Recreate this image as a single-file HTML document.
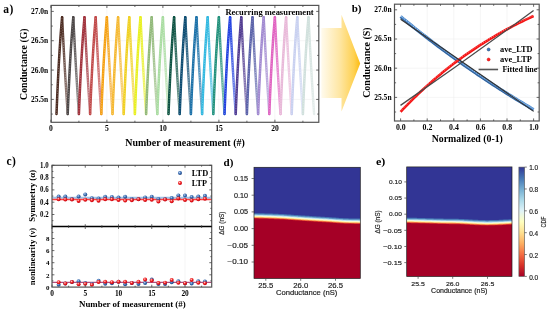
<!DOCTYPE html>
<html><head><meta charset="utf-8"><style>
html,body{margin:0;padding:0;background:#fff;}
svg{display:block;will-change:transform;}
</style></head><body>
<svg width="550" height="312" viewBox="0 0 550 312">
<rect width="550" height="312" fill="#fff"/>
<line x1="51.20" y1="40.73" x2="318.80" y2="40.73" stroke="#efefef" stroke-width="0.6"/>
<line x1="51.20" y1="70.07" x2="318.80" y2="70.07" stroke="#efefef" stroke-width="0.6"/>
<line x1="51.20" y1="99.41" x2="318.80" y2="99.41" stroke="#efefef" stroke-width="0.6"/>
<line x1="106.90" y1="5.40" x2="106.90" y2="122.30" stroke="#efefef" stroke-width="0.6"/>
<line x1="162.90" y1="5.40" x2="162.90" y2="122.30" stroke="#efefef" stroke-width="0.6"/>
<line x1="218.90" y1="5.40" x2="218.90" y2="122.30" stroke="#efefef" stroke-width="0.6"/>
<line x1="274.90" y1="5.40" x2="274.90" y2="122.30" stroke="#efefef" stroke-width="0.6"/>
<defs>
<linearGradient id="fg1" x1="0" y1="17.2" x2="0" y2="114.0" gradientUnits="userSpaceOnUse"><stop offset="0" stop-color="#4b2a20"/><stop offset="1" stop-color="#9c8984"/></linearGradient>
<linearGradient id="fg2" x1="0" y1="17.2" x2="0" y2="114.0" gradientUnits="userSpaceOnUse"><stop offset="0" stop-color="#4a4545"/><stop offset="1" stop-color="#9b9898"/></linearGradient>
<linearGradient id="fg3" x1="0" y1="17.2" x2="0" y2="114.0" gradientUnits="userSpaceOnUse"><stop offset="0" stop-color="#a0303a"/><stop offset="1" stop-color="#ca8d92"/></linearGradient>
<linearGradient id="fg4" x1="0" y1="17.2" x2="0" y2="114.0" gradientUnits="userSpaceOnUse"><stop offset="0" stop-color="#c04848"/><stop offset="1" stop-color="#dc9a9a"/></linearGradient>
<linearGradient id="fg5" x1="0" y1="17.2" x2="0" y2="114.0" gradientUnits="userSpaceOnUse"><stop offset="0" stop-color="#f5a010"/><stop offset="1" stop-color="#f9ca7b"/></linearGradient>
<linearGradient id="fg6" x1="0" y1="17.2" x2="0" y2="114.0" gradientUnits="userSpaceOnUse"><stop offset="0" stop-color="#f5b830"/><stop offset="1" stop-color="#f9d78d"/></linearGradient>
<linearGradient id="fg7" x1="0" y1="17.2" x2="0" y2="114.0" gradientUnits="userSpaceOnUse"><stop offset="0" stop-color="#f0d020"/><stop offset="1" stop-color="#f6e584"/></linearGradient>
<linearGradient id="fg8" x1="0" y1="17.2" x2="0" y2="114.0" gradientUnits="userSpaceOnUse"><stop offset="0" stop-color="#e8f020"/><stop offset="1" stop-color="#f2f684"/></linearGradient>
<linearGradient id="fg9" x1="0" y1="17.2" x2="0" y2="114.0" gradientUnits="userSpaceOnUse"><stop offset="0" stop-color="#90b878"/><stop offset="1" stop-color="#c1d7b4"/></linearGradient>
<linearGradient id="fg10" x1="0" y1="17.2" x2="0" y2="114.0" gradientUnits="userSpaceOnUse"><stop offset="0" stop-color="#a8dca0"/><stop offset="1" stop-color="#cfebca"/></linearGradient>
<linearGradient id="fg11" x1="0" y1="17.2" x2="0" y2="114.0" gradientUnits="userSpaceOnUse"><stop offset="0" stop-color="#0a5040"/><stop offset="1" stop-color="#789e95"/></linearGradient>
<linearGradient id="fg12" x1="0" y1="17.2" x2="0" y2="114.0" gradientUnits="userSpaceOnUse"><stop offset="0" stop-color="#0a4a70"/><stop offset="1" stop-color="#789bb0"/></linearGradient>
<linearGradient id="fg13" x1="0" y1="17.2" x2="0" y2="114.0" gradientUnits="userSpaceOnUse"><stop offset="0" stop-color="#1a70a8"/><stop offset="1" stop-color="#81b0cf"/></linearGradient>
<linearGradient id="fg14" x1="0" y1="17.2" x2="0" y2="114.0" gradientUnits="userSpaceOnUse"><stop offset="0" stop-color="#30b8e0"/><stop offset="1" stop-color="#8dd7ed"/></linearGradient>
<linearGradient id="fg15" x1="0" y1="17.2" x2="0" y2="114.0" gradientUnits="userSpaceOnUse"><stop offset="0" stop-color="#20907a"/><stop offset="1" stop-color="#84c1b5"/></linearGradient>
<linearGradient id="fg16" x1="0" y1="17.2" x2="0" y2="114.0" gradientUnits="userSpaceOnUse"><stop offset="0" stop-color="#2040e0"/><stop offset="1" stop-color="#8495ed"/></linearGradient>
<linearGradient id="fg17" x1="0" y1="17.2" x2="0" y2="114.0" gradientUnits="userSpaceOnUse"><stop offset="0" stop-color="#503a90"/><stop offset="1" stop-color="#9e92c1"/></linearGradient>
<linearGradient id="fg18" x1="0" y1="17.2" x2="0" y2="114.0" gradientUnits="userSpaceOnUse"><stop offset="0" stop-color="#5860a8"/><stop offset="1" stop-color="#a3a7cf"/></linearGradient>
<linearGradient id="fg19" x1="0" y1="17.2" x2="0" y2="114.0" gradientUnits="userSpaceOnUse"><stop offset="0" stop-color="#a088d0"/><stop offset="1" stop-color="#cabde5"/></linearGradient>
<linearGradient id="fg20" x1="0" y1="17.2" x2="0" y2="114.0" gradientUnits="userSpaceOnUse"><stop offset="0" stop-color="#e060c0"/><stop offset="1" stop-color="#eda7dc"/></linearGradient>
<linearGradient id="fg21" x1="0" y1="17.2" x2="0" y2="114.0" gradientUnits="userSpaceOnUse"><stop offset="0" stop-color="#e8b8d8"/><stop offset="1" stop-color="#f2d7e9"/></linearGradient>
<linearGradient id="fg22" x1="0" y1="17.2" x2="0" y2="114.0" gradientUnits="userSpaceOnUse"><stop offset="0" stop-color="#c8d0f0"/><stop offset="1" stop-color="#e0e5f6"/></linearGradient>
<linearGradient id="fg23" x1="0" y1="17.2" x2="0" y2="114.0" gradientUnits="userSpaceOnUse"><stop offset="0" stop-color="#d0e0dc"/><stop offset="1" stop-color="#e5edeb"/></linearGradient>
</defs>
<polyline points="62.10,17.20 62.38,22.89 62.66,28.47 62.94,33.96 63.22,39.36 63.50,44.66 63.78,49.87 64.06,54.99 64.34,60.02 64.62,64.97 64.90,69.82 65.18,74.60 65.46,79.29 65.74,83.90 66.02,88.43 66.30,92.88 66.58,97.25 66.86,101.55 67.14,105.77 67.42,109.92 67.70,114.00" fill="none" stroke="url(#fg1)" stroke-width="2.4" stroke-linejoin="round" stroke-linecap="round"/>
<polyline points="62.10,17.20 62.38,22.89 62.66,28.47 62.94,33.96 63.22,39.36 63.50,44.66 63.78,49.87 64.06,54.99 64.34,60.02 64.62,64.97 64.90,69.82 65.18,74.60 65.46,79.29 65.74,83.90 66.02,88.43 66.30,92.88 66.58,97.25 66.86,101.55 67.14,105.77 67.42,109.92 67.70,114.00" fill="none" stroke="#fff" stroke-opacity="0.45" stroke-width="0.9" stroke-dasharray="0.9 1.6"/>
<polyline points="56.50,114.00 56.78,106.97 57.06,100.22 57.34,93.76 57.62,87.57 57.90,81.64 58.18,75.95 58.46,70.50 58.74,65.27 59.02,60.27 59.30,55.47 59.58,50.87 59.86,46.46 60.14,42.24 60.42,38.19 60.70,34.31 60.98,30.59 61.26,27.03 61.54,23.61 61.82,20.34 62.10,17.20" fill="none" stroke="#4b2a20" stroke-width="2.5" stroke-linejoin="round" stroke-linecap="round"/>
<polyline points="56.50,114.00 56.78,106.97 57.06,100.22 57.34,93.76 57.62,87.57 57.90,81.64 58.18,75.95 58.46,70.50 58.74,65.27 59.02,60.27 59.30,55.47 59.58,50.87 59.86,46.46 60.14,42.24 60.42,38.19 60.70,34.31 60.98,30.59 61.26,27.03 61.54,23.61 61.82,20.34 62.10,17.20" fill="none" stroke="#fff" stroke-opacity="0.35" stroke-width="0.9" stroke-dasharray="0.9 1.6"/>
<polyline points="73.30,17.20 73.58,22.89 73.86,28.47 74.14,33.96 74.42,39.36 74.70,44.66 74.98,49.87 75.26,54.99 75.54,60.02 75.82,64.97 76.10,69.82 76.38,74.60 76.66,79.29 76.94,83.90 77.22,88.43 77.50,92.88 77.78,97.25 78.06,101.55 78.34,105.77 78.62,109.92 78.90,114.00" fill="none" stroke="url(#fg2)" stroke-width="2.4" stroke-linejoin="round" stroke-linecap="round"/>
<polyline points="73.30,17.20 73.58,22.89 73.86,28.47 74.14,33.96 74.42,39.36 74.70,44.66 74.98,49.87 75.26,54.99 75.54,60.02 75.82,64.97 76.10,69.82 76.38,74.60 76.66,79.29 76.94,83.90 77.22,88.43 77.50,92.88 77.78,97.25 78.06,101.55 78.34,105.77 78.62,109.92 78.90,114.00" fill="none" stroke="#fff" stroke-opacity="0.45" stroke-width="0.9" stroke-dasharray="0.9 1.6"/>
<polyline points="67.70,114.00 67.98,106.97 68.26,100.22 68.54,93.76 68.82,87.57 69.10,81.64 69.38,75.95 69.66,70.50 69.94,65.27 70.22,60.27 70.50,55.47 70.78,50.87 71.06,46.46 71.34,42.24 71.62,38.19 71.90,34.31 72.18,30.59 72.46,27.03 72.74,23.61 73.02,20.34 73.30,17.20" fill="none" stroke="#4a4545" stroke-width="2.5" stroke-linejoin="round" stroke-linecap="round"/>
<polyline points="67.70,114.00 67.98,106.97 68.26,100.22 68.54,93.76 68.82,87.57 69.10,81.64 69.38,75.95 69.66,70.50 69.94,65.27 70.22,60.27 70.50,55.47 70.78,50.87 71.06,46.46 71.34,42.24 71.62,38.19 71.90,34.31 72.18,30.59 72.46,27.03 72.74,23.61 73.02,20.34 73.30,17.20" fill="none" stroke="#fff" stroke-opacity="0.35" stroke-width="0.9" stroke-dasharray="0.9 1.6"/>
<polyline points="84.50,17.20 84.78,22.89 85.06,28.47 85.34,33.96 85.62,39.36 85.90,44.66 86.18,49.87 86.46,54.99 86.74,60.02 87.02,64.97 87.30,69.82 87.58,74.60 87.86,79.29 88.14,83.90 88.42,88.43 88.70,92.88 88.98,97.25 89.26,101.55 89.54,105.77 89.82,109.92 90.10,114.00" fill="none" stroke="url(#fg3)" stroke-width="2.4" stroke-linejoin="round" stroke-linecap="round"/>
<polyline points="84.50,17.20 84.78,22.89 85.06,28.47 85.34,33.96 85.62,39.36 85.90,44.66 86.18,49.87 86.46,54.99 86.74,60.02 87.02,64.97 87.30,69.82 87.58,74.60 87.86,79.29 88.14,83.90 88.42,88.43 88.70,92.88 88.98,97.25 89.26,101.55 89.54,105.77 89.82,109.92 90.10,114.00" fill="none" stroke="#fff" stroke-opacity="0.45" stroke-width="0.9" stroke-dasharray="0.9 1.6"/>
<polyline points="78.90,114.00 79.18,106.97 79.46,100.22 79.74,93.76 80.02,87.57 80.30,81.64 80.58,75.95 80.86,70.50 81.14,65.27 81.42,60.27 81.70,55.47 81.98,50.87 82.26,46.46 82.54,42.24 82.82,38.19 83.10,34.31 83.38,30.59 83.66,27.03 83.94,23.61 84.22,20.34 84.50,17.20" fill="none" stroke="#a0303a" stroke-width="2.5" stroke-linejoin="round" stroke-linecap="round"/>
<polyline points="78.90,114.00 79.18,106.97 79.46,100.22 79.74,93.76 80.02,87.57 80.30,81.64 80.58,75.95 80.86,70.50 81.14,65.27 81.42,60.27 81.70,55.47 81.98,50.87 82.26,46.46 82.54,42.24 82.82,38.19 83.10,34.31 83.38,30.59 83.66,27.03 83.94,23.61 84.22,20.34 84.50,17.20" fill="none" stroke="#fff" stroke-opacity="0.35" stroke-width="0.9" stroke-dasharray="0.9 1.6"/>
<polyline points="95.70,17.20 95.98,22.89 96.26,28.47 96.54,33.96 96.82,39.36 97.10,44.66 97.38,49.87 97.66,54.99 97.94,60.02 98.22,64.97 98.50,69.82 98.78,74.60 99.06,79.29 99.34,83.90 99.62,88.43 99.90,92.88 100.18,97.25 100.46,101.55 100.74,105.77 101.02,109.92 101.30,114.00" fill="none" stroke="url(#fg4)" stroke-width="2.4" stroke-linejoin="round" stroke-linecap="round"/>
<polyline points="95.70,17.20 95.98,22.89 96.26,28.47 96.54,33.96 96.82,39.36 97.10,44.66 97.38,49.87 97.66,54.99 97.94,60.02 98.22,64.97 98.50,69.82 98.78,74.60 99.06,79.29 99.34,83.90 99.62,88.43 99.90,92.88 100.18,97.25 100.46,101.55 100.74,105.77 101.02,109.92 101.30,114.00" fill="none" stroke="#fff" stroke-opacity="0.45" stroke-width="0.9" stroke-dasharray="0.9 1.6"/>
<polyline points="90.10,114.00 90.38,106.97 90.66,100.22 90.94,93.76 91.22,87.57 91.50,81.64 91.78,75.95 92.06,70.50 92.34,65.27 92.62,60.27 92.90,55.47 93.18,50.87 93.46,46.46 93.74,42.24 94.02,38.19 94.30,34.31 94.58,30.59 94.86,27.03 95.14,23.61 95.42,20.34 95.70,17.20" fill="none" stroke="#c04848" stroke-width="2.5" stroke-linejoin="round" stroke-linecap="round"/>
<polyline points="90.10,114.00 90.38,106.97 90.66,100.22 90.94,93.76 91.22,87.57 91.50,81.64 91.78,75.95 92.06,70.50 92.34,65.27 92.62,60.27 92.90,55.47 93.18,50.87 93.46,46.46 93.74,42.24 94.02,38.19 94.30,34.31 94.58,30.59 94.86,27.03 95.14,23.61 95.42,20.34 95.70,17.20" fill="none" stroke="#fff" stroke-opacity="0.35" stroke-width="0.9" stroke-dasharray="0.9 1.6"/>
<polyline points="106.90,17.20 107.18,22.89 107.46,28.47 107.74,33.96 108.02,39.36 108.30,44.66 108.58,49.87 108.86,54.99 109.14,60.02 109.42,64.97 109.70,69.82 109.98,74.60 110.26,79.29 110.54,83.90 110.82,88.43 111.10,92.88 111.38,97.25 111.66,101.55 111.94,105.77 112.22,109.92 112.50,114.00" fill="none" stroke="url(#fg5)" stroke-width="2.4" stroke-linejoin="round" stroke-linecap="round"/>
<polyline points="106.90,17.20 107.18,22.89 107.46,28.47 107.74,33.96 108.02,39.36 108.30,44.66 108.58,49.87 108.86,54.99 109.14,60.02 109.42,64.97 109.70,69.82 109.98,74.60 110.26,79.29 110.54,83.90 110.82,88.43 111.10,92.88 111.38,97.25 111.66,101.55 111.94,105.77 112.22,109.92 112.50,114.00" fill="none" stroke="#fff" stroke-opacity="0.45" stroke-width="0.9" stroke-dasharray="0.9 1.6"/>
<polyline points="101.30,114.00 101.58,106.97 101.86,100.22 102.14,93.76 102.42,87.57 102.70,81.64 102.98,75.95 103.26,70.50 103.54,65.27 103.82,60.27 104.10,55.47 104.38,50.87 104.66,46.46 104.94,42.24 105.22,38.19 105.50,34.31 105.78,30.59 106.06,27.03 106.34,23.61 106.62,20.34 106.90,17.20" fill="none" stroke="#f5a010" stroke-width="2.5" stroke-linejoin="round" stroke-linecap="round"/>
<polyline points="101.30,114.00 101.58,106.97 101.86,100.22 102.14,93.76 102.42,87.57 102.70,81.64 102.98,75.95 103.26,70.50 103.54,65.27 103.82,60.27 104.10,55.47 104.38,50.87 104.66,46.46 104.94,42.24 105.22,38.19 105.50,34.31 105.78,30.59 106.06,27.03 106.34,23.61 106.62,20.34 106.90,17.20" fill="none" stroke="#fff" stroke-opacity="0.35" stroke-width="0.9" stroke-dasharray="0.9 1.6"/>
<polyline points="118.10,17.20 118.38,22.89 118.66,28.47 118.94,33.96 119.22,39.36 119.50,44.66 119.78,49.87 120.06,54.99 120.34,60.02 120.62,64.97 120.90,69.82 121.18,74.60 121.46,79.29 121.74,83.90 122.02,88.43 122.30,92.88 122.58,97.25 122.86,101.55 123.14,105.77 123.42,109.92 123.70,114.00" fill="none" stroke="url(#fg6)" stroke-width="2.4" stroke-linejoin="round" stroke-linecap="round"/>
<polyline points="118.10,17.20 118.38,22.89 118.66,28.47 118.94,33.96 119.22,39.36 119.50,44.66 119.78,49.87 120.06,54.99 120.34,60.02 120.62,64.97 120.90,69.82 121.18,74.60 121.46,79.29 121.74,83.90 122.02,88.43 122.30,92.88 122.58,97.25 122.86,101.55 123.14,105.77 123.42,109.92 123.70,114.00" fill="none" stroke="#fff" stroke-opacity="0.45" stroke-width="0.9" stroke-dasharray="0.9 1.6"/>
<polyline points="112.50,114.00 112.78,106.97 113.06,100.22 113.34,93.76 113.62,87.57 113.90,81.64 114.18,75.95 114.46,70.50 114.74,65.27 115.02,60.27 115.30,55.47 115.58,50.87 115.86,46.46 116.14,42.24 116.42,38.19 116.70,34.31 116.98,30.59 117.26,27.03 117.54,23.61 117.82,20.34 118.10,17.20" fill="none" stroke="#f5b830" stroke-width="2.5" stroke-linejoin="round" stroke-linecap="round"/>
<polyline points="112.50,114.00 112.78,106.97 113.06,100.22 113.34,93.76 113.62,87.57 113.90,81.64 114.18,75.95 114.46,70.50 114.74,65.27 115.02,60.27 115.30,55.47 115.58,50.87 115.86,46.46 116.14,42.24 116.42,38.19 116.70,34.31 116.98,30.59 117.26,27.03 117.54,23.61 117.82,20.34 118.10,17.20" fill="none" stroke="#fff" stroke-opacity="0.35" stroke-width="0.9" stroke-dasharray="0.9 1.6"/>
<polyline points="129.30,17.20 129.58,22.89 129.86,28.47 130.14,33.96 130.42,39.36 130.70,44.66 130.98,49.87 131.26,54.99 131.54,60.02 131.82,64.97 132.10,69.82 132.38,74.60 132.66,79.29 132.94,83.90 133.22,88.43 133.50,92.88 133.78,97.25 134.06,101.55 134.34,105.77 134.62,109.92 134.90,114.00" fill="none" stroke="url(#fg7)" stroke-width="2.4" stroke-linejoin="round" stroke-linecap="round"/>
<polyline points="129.30,17.20 129.58,22.89 129.86,28.47 130.14,33.96 130.42,39.36 130.70,44.66 130.98,49.87 131.26,54.99 131.54,60.02 131.82,64.97 132.10,69.82 132.38,74.60 132.66,79.29 132.94,83.90 133.22,88.43 133.50,92.88 133.78,97.25 134.06,101.55 134.34,105.77 134.62,109.92 134.90,114.00" fill="none" stroke="#fff" stroke-opacity="0.45" stroke-width="0.9" stroke-dasharray="0.9 1.6"/>
<polyline points="123.70,114.00 123.98,106.97 124.26,100.22 124.54,93.76 124.82,87.57 125.10,81.64 125.38,75.95 125.66,70.50 125.94,65.27 126.22,60.27 126.50,55.47 126.78,50.87 127.06,46.46 127.34,42.24 127.62,38.19 127.90,34.31 128.18,30.59 128.46,27.03 128.74,23.61 129.02,20.34 129.30,17.20" fill="none" stroke="#f0d020" stroke-width="2.5" stroke-linejoin="round" stroke-linecap="round"/>
<polyline points="123.70,114.00 123.98,106.97 124.26,100.22 124.54,93.76 124.82,87.57 125.10,81.64 125.38,75.95 125.66,70.50 125.94,65.27 126.22,60.27 126.50,55.47 126.78,50.87 127.06,46.46 127.34,42.24 127.62,38.19 127.90,34.31 128.18,30.59 128.46,27.03 128.74,23.61 129.02,20.34 129.30,17.20" fill="none" stroke="#fff" stroke-opacity="0.35" stroke-width="0.9" stroke-dasharray="0.9 1.6"/>
<polyline points="140.50,17.20 140.78,22.89 141.06,28.47 141.34,33.96 141.62,39.36 141.90,44.66 142.18,49.87 142.46,54.99 142.74,60.02 143.02,64.97 143.30,69.82 143.58,74.60 143.86,79.29 144.14,83.90 144.42,88.43 144.70,92.88 144.98,97.25 145.26,101.55 145.54,105.77 145.82,109.92 146.10,114.00" fill="none" stroke="url(#fg8)" stroke-width="2.4" stroke-linejoin="round" stroke-linecap="round"/>
<polyline points="140.50,17.20 140.78,22.89 141.06,28.47 141.34,33.96 141.62,39.36 141.90,44.66 142.18,49.87 142.46,54.99 142.74,60.02 143.02,64.97 143.30,69.82 143.58,74.60 143.86,79.29 144.14,83.90 144.42,88.43 144.70,92.88 144.98,97.25 145.26,101.55 145.54,105.77 145.82,109.92 146.10,114.00" fill="none" stroke="#fff" stroke-opacity="0.45" stroke-width="0.9" stroke-dasharray="0.9 1.6"/>
<polyline points="134.90,114.00 135.18,106.97 135.46,100.22 135.74,93.76 136.02,87.57 136.30,81.64 136.58,75.95 136.86,70.50 137.14,65.27 137.42,60.27 137.70,55.47 137.98,50.87 138.26,46.46 138.54,42.24 138.82,38.19 139.10,34.31 139.38,30.59 139.66,27.03 139.94,23.61 140.22,20.34 140.50,17.20" fill="none" stroke="#e8f020" stroke-width="2.5" stroke-linejoin="round" stroke-linecap="round"/>
<polyline points="134.90,114.00 135.18,106.97 135.46,100.22 135.74,93.76 136.02,87.57 136.30,81.64 136.58,75.95 136.86,70.50 137.14,65.27 137.42,60.27 137.70,55.47 137.98,50.87 138.26,46.46 138.54,42.24 138.82,38.19 139.10,34.31 139.38,30.59 139.66,27.03 139.94,23.61 140.22,20.34 140.50,17.20" fill="none" stroke="#fff" stroke-opacity="0.35" stroke-width="0.9" stroke-dasharray="0.9 1.6"/>
<polyline points="151.70,17.20 151.98,22.89 152.26,28.47 152.54,33.96 152.82,39.36 153.10,44.66 153.38,49.87 153.66,54.99 153.94,60.02 154.22,64.97 154.50,69.82 154.78,74.60 155.06,79.29 155.34,83.90 155.62,88.43 155.90,92.88 156.18,97.25 156.46,101.55 156.74,105.77 157.02,109.92 157.30,114.00" fill="none" stroke="url(#fg9)" stroke-width="2.4" stroke-linejoin="round" stroke-linecap="round"/>
<polyline points="151.70,17.20 151.98,22.89 152.26,28.47 152.54,33.96 152.82,39.36 153.10,44.66 153.38,49.87 153.66,54.99 153.94,60.02 154.22,64.97 154.50,69.82 154.78,74.60 155.06,79.29 155.34,83.90 155.62,88.43 155.90,92.88 156.18,97.25 156.46,101.55 156.74,105.77 157.02,109.92 157.30,114.00" fill="none" stroke="#fff" stroke-opacity="0.45" stroke-width="0.9" stroke-dasharray="0.9 1.6"/>
<polyline points="146.10,114.00 146.38,106.97 146.66,100.22 146.94,93.76 147.22,87.57 147.50,81.64 147.78,75.95 148.06,70.50 148.34,65.27 148.62,60.27 148.90,55.47 149.18,50.87 149.46,46.46 149.74,42.24 150.02,38.19 150.30,34.31 150.58,30.59 150.86,27.03 151.14,23.61 151.42,20.34 151.70,17.20" fill="none" stroke="#90b878" stroke-width="2.5" stroke-linejoin="round" stroke-linecap="round"/>
<polyline points="146.10,114.00 146.38,106.97 146.66,100.22 146.94,93.76 147.22,87.57 147.50,81.64 147.78,75.95 148.06,70.50 148.34,65.27 148.62,60.27 148.90,55.47 149.18,50.87 149.46,46.46 149.74,42.24 150.02,38.19 150.30,34.31 150.58,30.59 150.86,27.03 151.14,23.61 151.42,20.34 151.70,17.20" fill="none" stroke="#fff" stroke-opacity="0.35" stroke-width="0.9" stroke-dasharray="0.9 1.6"/>
<polyline points="162.90,17.20 163.18,22.89 163.46,28.47 163.74,33.96 164.02,39.36 164.30,44.66 164.58,49.87 164.86,54.99 165.14,60.02 165.42,64.97 165.70,69.82 165.98,74.60 166.26,79.29 166.54,83.90 166.82,88.43 167.10,92.88 167.38,97.25 167.66,101.55 167.94,105.77 168.22,109.92 168.50,114.00" fill="none" stroke="url(#fg10)" stroke-width="2.4" stroke-linejoin="round" stroke-linecap="round"/>
<polyline points="162.90,17.20 163.18,22.89 163.46,28.47 163.74,33.96 164.02,39.36 164.30,44.66 164.58,49.87 164.86,54.99 165.14,60.02 165.42,64.97 165.70,69.82 165.98,74.60 166.26,79.29 166.54,83.90 166.82,88.43 167.10,92.88 167.38,97.25 167.66,101.55 167.94,105.77 168.22,109.92 168.50,114.00" fill="none" stroke="#fff" stroke-opacity="0.45" stroke-width="0.9" stroke-dasharray="0.9 1.6"/>
<polyline points="157.30,114.00 157.58,106.97 157.86,100.22 158.14,93.76 158.42,87.57 158.70,81.64 158.98,75.95 159.26,70.50 159.54,65.27 159.82,60.27 160.10,55.47 160.38,50.87 160.66,46.46 160.94,42.24 161.22,38.19 161.50,34.31 161.78,30.59 162.06,27.03 162.34,23.61 162.62,20.34 162.90,17.20" fill="none" stroke="#a8dca0" stroke-width="2.5" stroke-linejoin="round" stroke-linecap="round"/>
<polyline points="157.30,114.00 157.58,106.97 157.86,100.22 158.14,93.76 158.42,87.57 158.70,81.64 158.98,75.95 159.26,70.50 159.54,65.27 159.82,60.27 160.10,55.47 160.38,50.87 160.66,46.46 160.94,42.24 161.22,38.19 161.50,34.31 161.78,30.59 162.06,27.03 162.34,23.61 162.62,20.34 162.90,17.20" fill="none" stroke="#fff" stroke-opacity="0.35" stroke-width="0.9" stroke-dasharray="0.9 1.6"/>
<polyline points="174.10,17.20 174.38,22.89 174.66,28.47 174.94,33.96 175.22,39.36 175.50,44.66 175.78,49.87 176.06,54.99 176.34,60.02 176.62,64.97 176.90,69.82 177.18,74.60 177.46,79.29 177.74,83.90 178.02,88.43 178.30,92.88 178.58,97.25 178.86,101.55 179.14,105.77 179.42,109.92 179.70,114.00" fill="none" stroke="url(#fg11)" stroke-width="2.4" stroke-linejoin="round" stroke-linecap="round"/>
<polyline points="174.10,17.20 174.38,22.89 174.66,28.47 174.94,33.96 175.22,39.36 175.50,44.66 175.78,49.87 176.06,54.99 176.34,60.02 176.62,64.97 176.90,69.82 177.18,74.60 177.46,79.29 177.74,83.90 178.02,88.43 178.30,92.88 178.58,97.25 178.86,101.55 179.14,105.77 179.42,109.92 179.70,114.00" fill="none" stroke="#fff" stroke-opacity="0.45" stroke-width="0.9" stroke-dasharray="0.9 1.6"/>
<polyline points="168.50,114.00 168.78,106.97 169.06,100.22 169.34,93.76 169.62,87.57 169.90,81.64 170.18,75.95 170.46,70.50 170.74,65.27 171.02,60.27 171.30,55.47 171.58,50.87 171.86,46.46 172.14,42.24 172.42,38.19 172.70,34.31 172.98,30.59 173.26,27.03 173.54,23.61 173.82,20.34 174.10,17.20" fill="none" stroke="#0a5040" stroke-width="2.5" stroke-linejoin="round" stroke-linecap="round"/>
<polyline points="168.50,114.00 168.78,106.97 169.06,100.22 169.34,93.76 169.62,87.57 169.90,81.64 170.18,75.95 170.46,70.50 170.74,65.27 171.02,60.27 171.30,55.47 171.58,50.87 171.86,46.46 172.14,42.24 172.42,38.19 172.70,34.31 172.98,30.59 173.26,27.03 173.54,23.61 173.82,20.34 174.10,17.20" fill="none" stroke="#fff" stroke-opacity="0.35" stroke-width="0.9" stroke-dasharray="0.9 1.6"/>
<polyline points="185.30,17.20 185.58,22.89 185.86,28.47 186.14,33.96 186.42,39.36 186.70,44.66 186.98,49.87 187.26,54.99 187.54,60.02 187.82,64.97 188.10,69.82 188.38,74.60 188.66,79.29 188.94,83.90 189.22,88.43 189.50,92.88 189.78,97.25 190.06,101.55 190.34,105.77 190.62,109.92 190.90,114.00" fill="none" stroke="url(#fg12)" stroke-width="2.4" stroke-linejoin="round" stroke-linecap="round"/>
<polyline points="185.30,17.20 185.58,22.89 185.86,28.47 186.14,33.96 186.42,39.36 186.70,44.66 186.98,49.87 187.26,54.99 187.54,60.02 187.82,64.97 188.10,69.82 188.38,74.60 188.66,79.29 188.94,83.90 189.22,88.43 189.50,92.88 189.78,97.25 190.06,101.55 190.34,105.77 190.62,109.92 190.90,114.00" fill="none" stroke="#fff" stroke-opacity="0.45" stroke-width="0.9" stroke-dasharray="0.9 1.6"/>
<polyline points="179.70,114.00 179.98,106.97 180.26,100.22 180.54,93.76 180.82,87.57 181.10,81.64 181.38,75.95 181.66,70.50 181.94,65.27 182.22,60.27 182.50,55.47 182.78,50.87 183.06,46.46 183.34,42.24 183.62,38.19 183.90,34.31 184.18,30.59 184.46,27.03 184.74,23.61 185.02,20.34 185.30,17.20" fill="none" stroke="#0a4a70" stroke-width="2.5" stroke-linejoin="round" stroke-linecap="round"/>
<polyline points="179.70,114.00 179.98,106.97 180.26,100.22 180.54,93.76 180.82,87.57 181.10,81.64 181.38,75.95 181.66,70.50 181.94,65.27 182.22,60.27 182.50,55.47 182.78,50.87 183.06,46.46 183.34,42.24 183.62,38.19 183.90,34.31 184.18,30.59 184.46,27.03 184.74,23.61 185.02,20.34 185.30,17.20" fill="none" stroke="#fff" stroke-opacity="0.35" stroke-width="0.9" stroke-dasharray="0.9 1.6"/>
<polyline points="196.50,17.20 196.78,22.89 197.06,28.47 197.34,33.96 197.62,39.36 197.90,44.66 198.18,49.87 198.46,54.99 198.74,60.02 199.02,64.97 199.30,69.82 199.58,74.60 199.86,79.29 200.14,83.90 200.42,88.43 200.70,92.88 200.98,97.25 201.26,101.55 201.54,105.77 201.82,109.92 202.10,114.00" fill="none" stroke="url(#fg13)" stroke-width="2.4" stroke-linejoin="round" stroke-linecap="round"/>
<polyline points="196.50,17.20 196.78,22.89 197.06,28.47 197.34,33.96 197.62,39.36 197.90,44.66 198.18,49.87 198.46,54.99 198.74,60.02 199.02,64.97 199.30,69.82 199.58,74.60 199.86,79.29 200.14,83.90 200.42,88.43 200.70,92.88 200.98,97.25 201.26,101.55 201.54,105.77 201.82,109.92 202.10,114.00" fill="none" stroke="#fff" stroke-opacity="0.45" stroke-width="0.9" stroke-dasharray="0.9 1.6"/>
<polyline points="190.90,114.00 191.18,106.97 191.46,100.22 191.74,93.76 192.02,87.57 192.30,81.64 192.58,75.95 192.86,70.50 193.14,65.27 193.42,60.27 193.70,55.47 193.98,50.87 194.26,46.46 194.54,42.24 194.82,38.19 195.10,34.31 195.38,30.59 195.66,27.03 195.94,23.61 196.22,20.34 196.50,17.20" fill="none" stroke="#1a70a8" stroke-width="2.5" stroke-linejoin="round" stroke-linecap="round"/>
<polyline points="190.90,114.00 191.18,106.97 191.46,100.22 191.74,93.76 192.02,87.57 192.30,81.64 192.58,75.95 192.86,70.50 193.14,65.27 193.42,60.27 193.70,55.47 193.98,50.87 194.26,46.46 194.54,42.24 194.82,38.19 195.10,34.31 195.38,30.59 195.66,27.03 195.94,23.61 196.22,20.34 196.50,17.20" fill="none" stroke="#fff" stroke-opacity="0.35" stroke-width="0.9" stroke-dasharray="0.9 1.6"/>
<polyline points="207.70,17.20 207.98,22.89 208.26,28.47 208.54,33.96 208.82,39.36 209.10,44.66 209.38,49.87 209.66,54.99 209.94,60.02 210.22,64.97 210.50,69.82 210.78,74.60 211.06,79.29 211.34,83.90 211.62,88.43 211.90,92.88 212.18,97.25 212.46,101.55 212.74,105.77 213.02,109.92 213.30,114.00" fill="none" stroke="url(#fg14)" stroke-width="2.4" stroke-linejoin="round" stroke-linecap="round"/>
<polyline points="207.70,17.20 207.98,22.89 208.26,28.47 208.54,33.96 208.82,39.36 209.10,44.66 209.38,49.87 209.66,54.99 209.94,60.02 210.22,64.97 210.50,69.82 210.78,74.60 211.06,79.29 211.34,83.90 211.62,88.43 211.90,92.88 212.18,97.25 212.46,101.55 212.74,105.77 213.02,109.92 213.30,114.00" fill="none" stroke="#fff" stroke-opacity="0.45" stroke-width="0.9" stroke-dasharray="0.9 1.6"/>
<polyline points="202.10,114.00 202.38,106.97 202.66,100.22 202.94,93.76 203.22,87.57 203.50,81.64 203.78,75.95 204.06,70.50 204.34,65.27 204.62,60.27 204.90,55.47 205.18,50.87 205.46,46.46 205.74,42.24 206.02,38.19 206.30,34.31 206.58,30.59 206.86,27.03 207.14,23.61 207.42,20.34 207.70,17.20" fill="none" stroke="#30b8e0" stroke-width="2.5" stroke-linejoin="round" stroke-linecap="round"/>
<polyline points="202.10,114.00 202.38,106.97 202.66,100.22 202.94,93.76 203.22,87.57 203.50,81.64 203.78,75.95 204.06,70.50 204.34,65.27 204.62,60.27 204.90,55.47 205.18,50.87 205.46,46.46 205.74,42.24 206.02,38.19 206.30,34.31 206.58,30.59 206.86,27.03 207.14,23.61 207.42,20.34 207.70,17.20" fill="none" stroke="#fff" stroke-opacity="0.35" stroke-width="0.9" stroke-dasharray="0.9 1.6"/>
<polyline points="218.90,17.20 219.18,22.89 219.46,28.47 219.74,33.96 220.02,39.36 220.30,44.66 220.58,49.87 220.86,54.99 221.14,60.02 221.42,64.97 221.70,69.82 221.98,74.60 222.26,79.29 222.54,83.90 222.82,88.43 223.10,92.88 223.38,97.25 223.66,101.55 223.94,105.77 224.22,109.92 224.50,114.00" fill="none" stroke="url(#fg15)" stroke-width="2.4" stroke-linejoin="round" stroke-linecap="round"/>
<polyline points="218.90,17.20 219.18,22.89 219.46,28.47 219.74,33.96 220.02,39.36 220.30,44.66 220.58,49.87 220.86,54.99 221.14,60.02 221.42,64.97 221.70,69.82 221.98,74.60 222.26,79.29 222.54,83.90 222.82,88.43 223.10,92.88 223.38,97.25 223.66,101.55 223.94,105.77 224.22,109.92 224.50,114.00" fill="none" stroke="#fff" stroke-opacity="0.45" stroke-width="0.9" stroke-dasharray="0.9 1.6"/>
<polyline points="213.30,114.00 213.58,106.97 213.86,100.22 214.14,93.76 214.42,87.57 214.70,81.64 214.98,75.95 215.26,70.50 215.54,65.27 215.82,60.27 216.10,55.47 216.38,50.87 216.66,46.46 216.94,42.24 217.22,38.19 217.50,34.31 217.78,30.59 218.06,27.03 218.34,23.61 218.62,20.34 218.90,17.20" fill="none" stroke="#20907a" stroke-width="2.5" stroke-linejoin="round" stroke-linecap="round"/>
<polyline points="213.30,114.00 213.58,106.97 213.86,100.22 214.14,93.76 214.42,87.57 214.70,81.64 214.98,75.95 215.26,70.50 215.54,65.27 215.82,60.27 216.10,55.47 216.38,50.87 216.66,46.46 216.94,42.24 217.22,38.19 217.50,34.31 217.78,30.59 218.06,27.03 218.34,23.61 218.62,20.34 218.90,17.20" fill="none" stroke="#fff" stroke-opacity="0.35" stroke-width="0.9" stroke-dasharray="0.9 1.6"/>
<polyline points="230.10,17.20 230.38,22.89 230.66,28.47 230.94,33.96 231.22,39.36 231.50,44.66 231.78,49.87 232.06,54.99 232.34,60.02 232.62,64.97 232.90,69.82 233.18,74.60 233.46,79.29 233.74,83.90 234.02,88.43 234.30,92.88 234.58,97.25 234.86,101.55 235.14,105.77 235.42,109.92 235.70,114.00" fill="none" stroke="url(#fg16)" stroke-width="2.4" stroke-linejoin="round" stroke-linecap="round"/>
<polyline points="230.10,17.20 230.38,22.89 230.66,28.47 230.94,33.96 231.22,39.36 231.50,44.66 231.78,49.87 232.06,54.99 232.34,60.02 232.62,64.97 232.90,69.82 233.18,74.60 233.46,79.29 233.74,83.90 234.02,88.43 234.30,92.88 234.58,97.25 234.86,101.55 235.14,105.77 235.42,109.92 235.70,114.00" fill="none" stroke="#fff" stroke-opacity="0.45" stroke-width="0.9" stroke-dasharray="0.9 1.6"/>
<polyline points="224.50,114.00 224.78,106.97 225.06,100.22 225.34,93.76 225.62,87.57 225.90,81.64 226.18,75.95 226.46,70.50 226.74,65.27 227.02,60.27 227.30,55.47 227.58,50.87 227.86,46.46 228.14,42.24 228.42,38.19 228.70,34.31 228.98,30.59 229.26,27.03 229.54,23.61 229.82,20.34 230.10,17.20" fill="none" stroke="#2040e0" stroke-width="2.5" stroke-linejoin="round" stroke-linecap="round"/>
<polyline points="224.50,114.00 224.78,106.97 225.06,100.22 225.34,93.76 225.62,87.57 225.90,81.64 226.18,75.95 226.46,70.50 226.74,65.27 227.02,60.27 227.30,55.47 227.58,50.87 227.86,46.46 228.14,42.24 228.42,38.19 228.70,34.31 228.98,30.59 229.26,27.03 229.54,23.61 229.82,20.34 230.10,17.20" fill="none" stroke="#fff" stroke-opacity="0.35" stroke-width="0.9" stroke-dasharray="0.9 1.6"/>
<polyline points="241.30,17.20 241.58,22.89 241.86,28.47 242.14,33.96 242.42,39.36 242.70,44.66 242.98,49.87 243.26,54.99 243.54,60.02 243.82,64.97 244.10,69.82 244.38,74.60 244.66,79.29 244.94,83.90 245.22,88.43 245.50,92.88 245.78,97.25 246.06,101.55 246.34,105.77 246.62,109.92 246.90,114.00" fill="none" stroke="url(#fg17)" stroke-width="2.4" stroke-linejoin="round" stroke-linecap="round"/>
<polyline points="241.30,17.20 241.58,22.89 241.86,28.47 242.14,33.96 242.42,39.36 242.70,44.66 242.98,49.87 243.26,54.99 243.54,60.02 243.82,64.97 244.10,69.82 244.38,74.60 244.66,79.29 244.94,83.90 245.22,88.43 245.50,92.88 245.78,97.25 246.06,101.55 246.34,105.77 246.62,109.92 246.90,114.00" fill="none" stroke="#fff" stroke-opacity="0.45" stroke-width="0.9" stroke-dasharray="0.9 1.6"/>
<polyline points="235.70,114.00 235.98,106.97 236.26,100.22 236.54,93.76 236.82,87.57 237.10,81.64 237.38,75.95 237.66,70.50 237.94,65.27 238.22,60.27 238.50,55.47 238.78,50.87 239.06,46.46 239.34,42.24 239.62,38.19 239.90,34.31 240.18,30.59 240.46,27.03 240.74,23.61 241.02,20.34 241.30,17.20" fill="none" stroke="#503a90" stroke-width="2.5" stroke-linejoin="round" stroke-linecap="round"/>
<polyline points="235.70,114.00 235.98,106.97 236.26,100.22 236.54,93.76 236.82,87.57 237.10,81.64 237.38,75.95 237.66,70.50 237.94,65.27 238.22,60.27 238.50,55.47 238.78,50.87 239.06,46.46 239.34,42.24 239.62,38.19 239.90,34.31 240.18,30.59 240.46,27.03 240.74,23.61 241.02,20.34 241.30,17.20" fill="none" stroke="#fff" stroke-opacity="0.35" stroke-width="0.9" stroke-dasharray="0.9 1.6"/>
<polyline points="252.50,17.20 252.78,22.89 253.06,28.47 253.34,33.96 253.62,39.36 253.90,44.66 254.18,49.87 254.46,54.99 254.74,60.02 255.02,64.97 255.30,69.82 255.58,74.60 255.86,79.29 256.14,83.90 256.42,88.43 256.70,92.88 256.98,97.25 257.26,101.55 257.54,105.77 257.82,109.92 258.10,114.00" fill="none" stroke="url(#fg18)" stroke-width="2.4" stroke-linejoin="round" stroke-linecap="round"/>
<polyline points="252.50,17.20 252.78,22.89 253.06,28.47 253.34,33.96 253.62,39.36 253.90,44.66 254.18,49.87 254.46,54.99 254.74,60.02 255.02,64.97 255.30,69.82 255.58,74.60 255.86,79.29 256.14,83.90 256.42,88.43 256.70,92.88 256.98,97.25 257.26,101.55 257.54,105.77 257.82,109.92 258.10,114.00" fill="none" stroke="#fff" stroke-opacity="0.45" stroke-width="0.9" stroke-dasharray="0.9 1.6"/>
<polyline points="246.90,114.00 247.18,106.97 247.46,100.22 247.74,93.76 248.02,87.57 248.30,81.64 248.58,75.95 248.86,70.50 249.14,65.27 249.42,60.27 249.70,55.47 249.98,50.87 250.26,46.46 250.54,42.24 250.82,38.19 251.10,34.31 251.38,30.59 251.66,27.03 251.94,23.61 252.22,20.34 252.50,17.20" fill="none" stroke="#5860a8" stroke-width="2.5" stroke-linejoin="round" stroke-linecap="round"/>
<polyline points="246.90,114.00 247.18,106.97 247.46,100.22 247.74,93.76 248.02,87.57 248.30,81.64 248.58,75.95 248.86,70.50 249.14,65.27 249.42,60.27 249.70,55.47 249.98,50.87 250.26,46.46 250.54,42.24 250.82,38.19 251.10,34.31 251.38,30.59 251.66,27.03 251.94,23.61 252.22,20.34 252.50,17.20" fill="none" stroke="#fff" stroke-opacity="0.35" stroke-width="0.9" stroke-dasharray="0.9 1.6"/>
<polyline points="263.70,17.20 263.98,22.89 264.26,28.47 264.54,33.96 264.82,39.36 265.10,44.66 265.38,49.87 265.66,54.99 265.94,60.02 266.22,64.97 266.50,69.82 266.78,74.60 267.06,79.29 267.34,83.90 267.62,88.43 267.90,92.88 268.18,97.25 268.46,101.55 268.74,105.77 269.02,109.92 269.30,114.00" fill="none" stroke="url(#fg19)" stroke-width="2.4" stroke-linejoin="round" stroke-linecap="round"/>
<polyline points="263.70,17.20 263.98,22.89 264.26,28.47 264.54,33.96 264.82,39.36 265.10,44.66 265.38,49.87 265.66,54.99 265.94,60.02 266.22,64.97 266.50,69.82 266.78,74.60 267.06,79.29 267.34,83.90 267.62,88.43 267.90,92.88 268.18,97.25 268.46,101.55 268.74,105.77 269.02,109.92 269.30,114.00" fill="none" stroke="#fff" stroke-opacity="0.45" stroke-width="0.9" stroke-dasharray="0.9 1.6"/>
<polyline points="258.10,114.00 258.38,106.97 258.66,100.22 258.94,93.76 259.22,87.57 259.50,81.64 259.78,75.95 260.06,70.50 260.34,65.27 260.62,60.27 260.90,55.47 261.18,50.87 261.46,46.46 261.74,42.24 262.02,38.19 262.30,34.31 262.58,30.59 262.86,27.03 263.14,23.61 263.42,20.34 263.70,17.20" fill="none" stroke="#a088d0" stroke-width="2.5" stroke-linejoin="round" stroke-linecap="round"/>
<polyline points="258.10,114.00 258.38,106.97 258.66,100.22 258.94,93.76 259.22,87.57 259.50,81.64 259.78,75.95 260.06,70.50 260.34,65.27 260.62,60.27 260.90,55.47 261.18,50.87 261.46,46.46 261.74,42.24 262.02,38.19 262.30,34.31 262.58,30.59 262.86,27.03 263.14,23.61 263.42,20.34 263.70,17.20" fill="none" stroke="#fff" stroke-opacity="0.35" stroke-width="0.9" stroke-dasharray="0.9 1.6"/>
<polyline points="274.90,17.20 275.18,22.89 275.46,28.47 275.74,33.96 276.02,39.36 276.30,44.66 276.58,49.87 276.86,54.99 277.14,60.02 277.42,64.97 277.70,69.82 277.98,74.60 278.26,79.29 278.54,83.90 278.82,88.43 279.10,92.88 279.38,97.25 279.66,101.55 279.94,105.77 280.22,109.92 280.50,114.00" fill="none" stroke="url(#fg20)" stroke-width="2.4" stroke-linejoin="round" stroke-linecap="round"/>
<polyline points="274.90,17.20 275.18,22.89 275.46,28.47 275.74,33.96 276.02,39.36 276.30,44.66 276.58,49.87 276.86,54.99 277.14,60.02 277.42,64.97 277.70,69.82 277.98,74.60 278.26,79.29 278.54,83.90 278.82,88.43 279.10,92.88 279.38,97.25 279.66,101.55 279.94,105.77 280.22,109.92 280.50,114.00" fill="none" stroke="#fff" stroke-opacity="0.45" stroke-width="0.9" stroke-dasharray="0.9 1.6"/>
<polyline points="269.30,114.00 269.58,106.97 269.86,100.22 270.14,93.76 270.42,87.57 270.70,81.64 270.98,75.95 271.26,70.50 271.54,65.27 271.82,60.27 272.10,55.47 272.38,50.87 272.66,46.46 272.94,42.24 273.22,38.19 273.50,34.31 273.78,30.59 274.06,27.03 274.34,23.61 274.62,20.34 274.90,17.20" fill="none" stroke="#e060c0" stroke-width="2.5" stroke-linejoin="round" stroke-linecap="round"/>
<polyline points="269.30,114.00 269.58,106.97 269.86,100.22 270.14,93.76 270.42,87.57 270.70,81.64 270.98,75.95 271.26,70.50 271.54,65.27 271.82,60.27 272.10,55.47 272.38,50.87 272.66,46.46 272.94,42.24 273.22,38.19 273.50,34.31 273.78,30.59 274.06,27.03 274.34,23.61 274.62,20.34 274.90,17.20" fill="none" stroke="#fff" stroke-opacity="0.35" stroke-width="0.9" stroke-dasharray="0.9 1.6"/>
<polyline points="286.10,17.20 286.38,22.89 286.66,28.47 286.94,33.96 287.22,39.36 287.50,44.66 287.78,49.87 288.06,54.99 288.34,60.02 288.62,64.97 288.90,69.82 289.18,74.60 289.46,79.29 289.74,83.90 290.02,88.43 290.30,92.88 290.58,97.25 290.86,101.55 291.14,105.77 291.42,109.92 291.70,114.00" fill="none" stroke="url(#fg21)" stroke-width="2.4" stroke-linejoin="round" stroke-linecap="round"/>
<polyline points="286.10,17.20 286.38,22.89 286.66,28.47 286.94,33.96 287.22,39.36 287.50,44.66 287.78,49.87 288.06,54.99 288.34,60.02 288.62,64.97 288.90,69.82 289.18,74.60 289.46,79.29 289.74,83.90 290.02,88.43 290.30,92.88 290.58,97.25 290.86,101.55 291.14,105.77 291.42,109.92 291.70,114.00" fill="none" stroke="#fff" stroke-opacity="0.45" stroke-width="0.9" stroke-dasharray="0.9 1.6"/>
<polyline points="280.50,114.00 280.78,106.97 281.06,100.22 281.34,93.76 281.62,87.57 281.90,81.64 282.18,75.95 282.46,70.50 282.74,65.27 283.02,60.27 283.30,55.47 283.58,50.87 283.86,46.46 284.14,42.24 284.42,38.19 284.70,34.31 284.98,30.59 285.26,27.03 285.54,23.61 285.82,20.34 286.10,17.20" fill="none" stroke="#e8b8d8" stroke-width="2.5" stroke-linejoin="round" stroke-linecap="round"/>
<polyline points="280.50,114.00 280.78,106.97 281.06,100.22 281.34,93.76 281.62,87.57 281.90,81.64 282.18,75.95 282.46,70.50 282.74,65.27 283.02,60.27 283.30,55.47 283.58,50.87 283.86,46.46 284.14,42.24 284.42,38.19 284.70,34.31 284.98,30.59 285.26,27.03 285.54,23.61 285.82,20.34 286.10,17.20" fill="none" stroke="#fff" stroke-opacity="0.35" stroke-width="0.9" stroke-dasharray="0.9 1.6"/>
<polyline points="297.30,17.20 297.58,22.89 297.86,28.47 298.14,33.96 298.42,39.36 298.70,44.66 298.98,49.87 299.26,54.99 299.54,60.02 299.82,64.97 300.10,69.82 300.38,74.60 300.66,79.29 300.94,83.90 301.22,88.43 301.50,92.88 301.78,97.25 302.06,101.55 302.34,105.77 302.62,109.92 302.90,114.00" fill="none" stroke="url(#fg22)" stroke-width="2.4" stroke-linejoin="round" stroke-linecap="round"/>
<polyline points="297.30,17.20 297.58,22.89 297.86,28.47 298.14,33.96 298.42,39.36 298.70,44.66 298.98,49.87 299.26,54.99 299.54,60.02 299.82,64.97 300.10,69.82 300.38,74.60 300.66,79.29 300.94,83.90 301.22,88.43 301.50,92.88 301.78,97.25 302.06,101.55 302.34,105.77 302.62,109.92 302.90,114.00" fill="none" stroke="#fff" stroke-opacity="0.45" stroke-width="0.9" stroke-dasharray="0.9 1.6"/>
<polyline points="291.70,114.00 291.98,106.97 292.26,100.22 292.54,93.76 292.82,87.57 293.10,81.64 293.38,75.95 293.66,70.50 293.94,65.27 294.22,60.27 294.50,55.47 294.78,50.87 295.06,46.46 295.34,42.24 295.62,38.19 295.90,34.31 296.18,30.59 296.46,27.03 296.74,23.61 297.02,20.34 297.30,17.20" fill="none" stroke="#c8d0f0" stroke-width="2.5" stroke-linejoin="round" stroke-linecap="round"/>
<polyline points="291.70,114.00 291.98,106.97 292.26,100.22 292.54,93.76 292.82,87.57 293.10,81.64 293.38,75.95 293.66,70.50 293.94,65.27 294.22,60.27 294.50,55.47 294.78,50.87 295.06,46.46 295.34,42.24 295.62,38.19 295.90,34.31 296.18,30.59 296.46,27.03 296.74,23.61 297.02,20.34 297.30,17.20" fill="none" stroke="#fff" stroke-opacity="0.35" stroke-width="0.9" stroke-dasharray="0.9 1.6"/>
<polyline points="308.50,17.20 308.78,22.89 309.06,28.47 309.34,33.96 309.62,39.36 309.90,44.66 310.18,49.87 310.46,54.99 310.74,60.02 311.02,64.97 311.30,69.82 311.58,74.60 311.86,79.29 312.14,83.90 312.42,88.43 312.70,92.88 312.98,97.25 313.26,101.55 313.54,105.77 313.82,109.92 314.10,114.00" fill="none" stroke="url(#fg23)" stroke-width="2.4" stroke-linejoin="round" stroke-linecap="round"/>
<polyline points="308.50,17.20 308.78,22.89 309.06,28.47 309.34,33.96 309.62,39.36 309.90,44.66 310.18,49.87 310.46,54.99 310.74,60.02 311.02,64.97 311.30,69.82 311.58,74.60 311.86,79.29 312.14,83.90 312.42,88.43 312.70,92.88 312.98,97.25 313.26,101.55 313.54,105.77 313.82,109.92 314.10,114.00" fill="none" stroke="#fff" stroke-opacity="0.45" stroke-width="0.9" stroke-dasharray="0.9 1.6"/>
<polyline points="302.90,114.00 303.18,106.97 303.46,100.22 303.74,93.76 304.02,87.57 304.30,81.64 304.58,75.95 304.86,70.50 305.14,65.27 305.42,60.27 305.70,55.47 305.98,50.87 306.26,46.46 306.54,42.24 306.82,38.19 307.10,34.31 307.38,30.59 307.66,27.03 307.94,23.61 308.22,20.34 308.50,17.20" fill="none" stroke="#d0e0dc" stroke-width="2.5" stroke-linejoin="round" stroke-linecap="round"/>
<polyline points="302.90,114.00 303.18,106.97 303.46,100.22 303.74,93.76 304.02,87.57 304.30,81.64 304.58,75.95 304.86,70.50 305.14,65.27 305.42,60.27 305.70,55.47 305.98,50.87 306.26,46.46 306.54,42.24 306.82,38.19 307.10,34.31 307.38,30.59 307.66,27.03 307.94,23.61 308.22,20.34 308.50,17.20" fill="none" stroke="#fff" stroke-opacity="0.35" stroke-width="0.9" stroke-dasharray="0.9 1.6"/>
<rect x="51.20" y="5.40" width="267.60" height="116.90" fill="none" stroke="#555" stroke-width="1.2"/>
<line x1="51.20" y1="11.40" x2="53.80" y2="11.40" stroke="#444" stroke-width="0.8"/>
<line x1="316.20" y1="11.40" x2="318.80" y2="11.40" stroke="#444" stroke-width="0.8"/>
<line x1="51.20" y1="40.73" x2="53.80" y2="40.73" stroke="#444" stroke-width="0.8"/>
<line x1="316.20" y1="40.73" x2="318.80" y2="40.73" stroke="#444" stroke-width="0.8"/>
<line x1="51.20" y1="70.07" x2="53.80" y2="70.07" stroke="#444" stroke-width="0.8"/>
<line x1="316.20" y1="70.07" x2="318.80" y2="70.07" stroke="#444" stroke-width="0.8"/>
<line x1="51.20" y1="99.41" x2="53.80" y2="99.41" stroke="#444" stroke-width="0.8"/>
<line x1="316.20" y1="99.41" x2="318.80" y2="99.41" stroke="#444" stroke-width="0.8"/>
<line x1="51.20" y1="26.07" x2="52.80" y2="26.07" stroke="#444" stroke-width="0.8"/>
<line x1="317.20" y1="26.07" x2="318.80" y2="26.07" stroke="#444" stroke-width="0.8"/>
<line x1="51.20" y1="55.40" x2="52.80" y2="55.40" stroke="#444" stroke-width="0.8"/>
<line x1="317.20" y1="55.40" x2="318.80" y2="55.40" stroke="#444" stroke-width="0.8"/>
<line x1="51.20" y1="84.74" x2="52.80" y2="84.74" stroke="#444" stroke-width="0.8"/>
<line x1="317.20" y1="84.74" x2="318.80" y2="84.74" stroke="#444" stroke-width="0.8"/>
<line x1="51.20" y1="114.07" x2="52.80" y2="114.07" stroke="#444" stroke-width="0.8"/>
<line x1="317.20" y1="114.07" x2="318.80" y2="114.07" stroke="#444" stroke-width="0.8"/>
<line x1="50.90" y1="122.30" x2="50.90" y2="119.70" stroke="#444" stroke-width="0.8"/>
<line x1="50.90" y1="5.40" x2="50.90" y2="8.00" stroke="#444" stroke-width="0.8"/>
<line x1="106.90" y1="122.30" x2="106.90" y2="119.70" stroke="#444" stroke-width="0.8"/>
<line x1="106.90" y1="5.40" x2="106.90" y2="8.00" stroke="#444" stroke-width="0.8"/>
<line x1="162.90" y1="122.30" x2="162.90" y2="119.70" stroke="#444" stroke-width="0.8"/>
<line x1="162.90" y1="5.40" x2="162.90" y2="8.00" stroke="#444" stroke-width="0.8"/>
<line x1="218.90" y1="122.30" x2="218.90" y2="119.70" stroke="#444" stroke-width="0.8"/>
<line x1="218.90" y1="5.40" x2="218.90" y2="8.00" stroke="#444" stroke-width="0.8"/>
<line x1="274.90" y1="122.30" x2="274.90" y2="119.70" stroke="#444" stroke-width="0.8"/>
<line x1="274.90" y1="5.40" x2="274.90" y2="8.00" stroke="#444" stroke-width="0.8"/>
<line x1="78.90" y1="122.30" x2="78.90" y2="120.70" stroke="#444" stroke-width="0.8"/>
<line x1="78.90" y1="5.40" x2="78.90" y2="7.00" stroke="#444" stroke-width="0.8"/>
<line x1="134.90" y1="122.30" x2="134.90" y2="120.70" stroke="#444" stroke-width="0.8"/>
<line x1="134.90" y1="5.40" x2="134.90" y2="7.00" stroke="#444" stroke-width="0.8"/>
<line x1="190.90" y1="122.30" x2="190.90" y2="120.70" stroke="#444" stroke-width="0.8"/>
<line x1="190.90" y1="5.40" x2="190.90" y2="7.00" stroke="#444" stroke-width="0.8"/>
<line x1="246.90" y1="122.30" x2="246.90" y2="120.70" stroke="#444" stroke-width="0.8"/>
<line x1="246.90" y1="5.40" x2="246.90" y2="7.00" stroke="#444" stroke-width="0.8"/>
<line x1="302.90" y1="122.30" x2="302.90" y2="120.70" stroke="#444" stroke-width="0.8"/>
<line x1="302.90" y1="5.40" x2="302.90" y2="7.00" stroke="#444" stroke-width="0.8"/>
<text x="48.30" y="13.90" font-size="7.9" text-anchor="end" style="font-family:'Liberation Serif',serif;font-weight:bold" fill="#000" textLength="17.3" lengthAdjust="spacingAndGlyphs">27.0n</text>
<text x="48.30" y="43.23" font-size="7.9" text-anchor="end" style="font-family:'Liberation Serif',serif;font-weight:bold" fill="#000" textLength="17.3" lengthAdjust="spacingAndGlyphs">26.5n</text>
<text x="48.30" y="72.57" font-size="7.9" text-anchor="end" style="font-family:'Liberation Serif',serif;font-weight:bold" fill="#000" textLength="17.3" lengthAdjust="spacingAndGlyphs">26.0n</text>
<text x="48.30" y="101.91" font-size="7.9" text-anchor="end" style="font-family:'Liberation Serif',serif;font-weight:bold" fill="#000" textLength="17.3" lengthAdjust="spacingAndGlyphs">25.5n</text>
<text x="51.00" y="131.00" font-size="7.6" text-anchor="middle" style="font-family:'Liberation Serif',serif;font-weight:bold" fill="#000">0</text>
<text x="107.00" y="131.00" font-size="7.6" text-anchor="middle" style="font-family:'Liberation Serif',serif;font-weight:bold" fill="#000">5</text>
<text x="163.00" y="131.00" font-size="7.6" text-anchor="middle" style="font-family:'Liberation Serif',serif;font-weight:bold" fill="#000">10</text>
<text x="219.00" y="131.00" font-size="7.6" text-anchor="middle" style="font-family:'Liberation Serif',serif;font-weight:bold" fill="#000">15</text>
<text x="275.00" y="131.00" font-size="7.6" text-anchor="middle" style="font-family:'Liberation Serif',serif;font-weight:bold" fill="#000">20</text>
<text x="185.00" y="145.80" font-size="9.9" text-anchor="middle" style="font-family:'Liberation Serif',serif;font-weight:bold" fill="#000" textLength="119.4" lengthAdjust="spacingAndGlyphs">Number of measurement (#)</text>
<text x="27.20" y="64.20" font-size="9.8" text-anchor="middle" style="font-family:'Liberation Serif',serif;font-weight:bold" fill="#000" transform="rotate(-90 27.20 64.20)" textLength="71.4" lengthAdjust="spacingAndGlyphs">Conductance (G)</text>
<text x="3.30" y="12.50" font-size="11.5" text-anchor="start" style="font-family:'Liberation Serif',serif;font-weight:bold" fill="#000">a</text>
<text x="9.40" y="12.50" font-size="11.5" text-anchor="start" style="font-family:'Liberation Serif',serif;font-weight:bold" fill="#000">)</text>
<text x="225.40" y="14.50" font-size="8.6" text-anchor="start" style="font-family:'Liberation Serif',serif;font-weight:bold" fill="#000" textLength="88.3" lengthAdjust="spacingAndGlyphs">Recurring measurement</text>
<defs><linearGradient id="ag" x1="320" y1="0" x2="360" y2="0" gradientUnits="userSpaceOnUse"><stop offset="0" stop-color="#fffcf2"/><stop offset="0.5" stop-color="#fee6a2"/><stop offset="0.85" stop-color="#fed050"/><stop offset="1" stop-color="#fcbc12"/></linearGradient></defs>
<polygon points="321.3,28 341.5,28 341.5,14.8 360.2,63.4 341.5,111.6 341.5,98 321.3,98" fill="url(#ag)"/>
<line x1="394.50" y1="39.00" x2="539.20" y2="39.00" stroke="#efefef" stroke-width="0.6"/>
<line x1="394.50" y1="68.20" x2="539.20" y2="68.20" stroke="#efefef" stroke-width="0.6"/>
<line x1="394.50" y1="97.40" x2="539.20" y2="97.40" stroke="#efefef" stroke-width="0.6"/>
<line x1="427.20" y1="4.20" x2="427.20" y2="121.00" stroke="#efefef" stroke-width="0.6"/>
<line x1="453.80" y1="4.20" x2="453.80" y2="121.00" stroke="#efefef" stroke-width="0.6"/>
<line x1="480.40" y1="4.20" x2="480.40" y2="121.00" stroke="#efefef" stroke-width="0.6"/>
<line x1="507.00" y1="4.20" x2="507.00" y2="121.00" stroke="#efefef" stroke-width="0.6"/>
<polyline points="400.60,16.60 402.82,18.43 405.03,20.25 407.25,22.06 409.47,23.86 411.68,25.65 413.90,27.43 416.12,29.20 418.33,30.96 420.55,32.71 422.77,34.44 424.98,36.17 427.20,37.89 429.42,39.60 431.63,41.30 433.85,42.98 436.07,44.66 438.28,46.33 440.50,47.99 442.72,49.64 444.93,51.28 447.15,52.91 449.37,54.53 451.58,56.14 453.80,57.74 456.02,59.33 458.23,60.92 460.45,62.49 462.67,64.06 464.88,65.61 467.10,67.16 469.32,68.70 471.53,70.22 473.75,71.74 475.97,73.26 478.18,74.76 480.40,76.25 482.62,77.74 484.83,79.21 487.05,80.68 489.27,82.14 491.48,83.59 493.70,85.03 495.92,86.46 498.13,87.89 500.35,89.31 502.57,90.72 504.78,92.12 507.00,93.51 509.22,94.89 511.43,96.27 513.65,97.64 515.87,99.00 518.08,100.35 520.30,101.70 522.52,103.03 524.73,104.36 526.95,105.68 529.17,107.00 531.38,108.30 533.60,109.60" fill="none" stroke="#4a88cc" stroke-width="3.3" stroke-linejoin="round"/>
<polyline points="400.60,16.60 402.82,18.43 405.03,20.25 407.25,22.06 409.47,23.86 411.68,25.65 413.90,27.43 416.12,29.20 418.33,30.96 420.55,32.71 422.77,34.44 424.98,36.17 427.20,37.89 429.42,39.60 431.63,41.30 433.85,42.98 436.07,44.66 438.28,46.33 440.50,47.99 442.72,49.64 444.93,51.28 447.15,52.91 449.37,54.53 451.58,56.14 453.80,57.74 456.02,59.33 458.23,60.92 460.45,62.49 462.67,64.06 464.88,65.61 467.10,67.16 469.32,68.70 471.53,70.22 473.75,71.74 475.97,73.26 478.18,74.76 480.40,76.25 482.62,77.74 484.83,79.21 487.05,80.68 489.27,82.14 491.48,83.59 493.70,85.03 495.92,86.46 498.13,87.89 500.35,89.31 502.57,90.72 504.78,92.12 507.00,93.51 509.22,94.89 511.43,96.27 513.65,97.64 515.87,99.00 518.08,100.35 520.30,101.70 522.52,103.03 524.73,104.36 526.95,105.68 529.17,107.00 531.38,108.30 533.60,109.60" fill="none" stroke="#2c4a74" stroke-width="0.7" transform="translate(0,1.1)"/>
<polyline points="400.60,16.60 402.82,18.43 405.03,20.25 407.25,22.06 409.47,23.86 411.68,25.65 413.90,27.43 416.12,29.20 418.33,30.96 420.55,32.71 422.77,34.44 424.98,36.17 427.20,37.89 429.42,39.60 431.63,41.30 433.85,42.98 436.07,44.66 438.28,46.33 440.50,47.99 442.72,49.64 444.93,51.28 447.15,52.91 449.37,54.53 451.58,56.14 453.80,57.74 456.02,59.33 458.23,60.92 460.45,62.49 462.67,64.06 464.88,65.61 467.10,67.16 469.32,68.70 471.53,70.22 473.75,71.74 475.97,73.26 478.18,74.76 480.40,76.25 482.62,77.74 484.83,79.21 487.05,80.68 489.27,82.14 491.48,83.59 493.70,85.03 495.92,86.46 498.13,87.89 500.35,89.31 502.57,90.72 504.78,92.12 507.00,93.51 509.22,94.89 511.43,96.27 513.65,97.64 515.87,99.00 518.08,100.35 520.30,101.70 522.52,103.03 524.73,104.36 526.95,105.68 529.17,107.00 531.38,108.30 533.60,109.60" fill="none" stroke="#d0e4fa" stroke-width="1.0" stroke-dasharray="0.9 1.4" transform="translate(0.2,-0.6)"/>
<polyline points="400.60,111.80 402.82,109.45 405.03,107.13 407.25,104.84 409.47,102.58 411.68,100.36 413.90,98.17 416.12,96.00 418.33,93.87 420.55,91.77 422.77,89.70 424.98,87.66 427.20,85.64 429.42,83.66 431.63,81.70 433.85,79.77 436.07,77.87 438.28,75.99 440.50,74.14 442.72,72.32 444.93,70.52 447.15,68.75 449.37,67.00 451.58,65.27 453.80,63.58 456.02,61.90 458.23,60.25 460.45,58.62 462.67,57.02 464.88,55.43 467.10,53.87 469.32,52.33 471.53,50.82 473.75,49.32 475.97,47.85 478.18,46.39 480.40,44.96 482.62,43.55 484.83,42.15 487.05,40.78 489.27,39.42 491.48,38.09 493.70,36.77 495.92,35.47 498.13,34.19 500.35,32.93 502.57,31.69 504.78,30.46 507.00,29.25 509.22,28.06 511.43,26.88 513.65,25.72 515.87,24.58 518.08,23.46 520.30,22.34 522.52,21.25 524.73,20.17 526.95,19.10 529.17,18.06 531.38,17.02 533.60,16.00" fill="none" stroke="#f41414" stroke-width="2.6" stroke-linejoin="round"/>
<polyline points="400.60,111.80 402.82,109.45 405.03,107.13 407.25,104.84 409.47,102.58 411.68,100.36 413.90,98.17 416.12,96.00 418.33,93.87 420.55,91.77 422.77,89.70 424.98,87.66 427.20,85.64 429.42,83.66 431.63,81.70 433.85,79.77 436.07,77.87 438.28,75.99 440.50,74.14 442.72,72.32 444.93,70.52 447.15,68.75 449.37,67.00 451.58,65.27 453.80,63.58 456.02,61.90 458.23,60.25 460.45,58.62 462.67,57.02 464.88,55.43 467.10,53.87 469.32,52.33 471.53,50.82 473.75,49.32 475.97,47.85 478.18,46.39 480.40,44.96 482.62,43.55 484.83,42.15 487.05,40.78 489.27,39.42 491.48,38.09 493.70,36.77 495.92,35.47 498.13,34.19 500.35,32.93 502.57,31.69 504.78,30.46 507.00,29.25 509.22,28.06 511.43,26.88 513.65,25.72 515.87,24.58 518.08,23.46 520.30,22.34 522.52,21.25 524.73,20.17 526.95,19.10 529.17,18.06 531.38,17.02 533.60,16.00" fill="none" stroke="#ff9090" stroke-width="0.9" stroke-dasharray="0.9 1.4" transform="translate(-0.3,-0.4)"/>
<path d="M400.5,105.4 Q467,59.5 533.6,10.5" fill="none" stroke="#4a4a4a" stroke-width="1.3"/>
<line x1="400.60" y1="19.20" x2="533.60" y2="111.40" stroke="#333" stroke-width="1.1"/>
<rect x="394.50" y="4.20" width="144.70" height="116.80" fill="none" stroke="#555" stroke-width="1.2"/>
<line x1="394.50" y1="9.80" x2="397.10" y2="9.80" stroke="#444" stroke-width="0.8"/>
<line x1="536.60" y1="9.80" x2="539.20" y2="9.80" stroke="#444" stroke-width="0.8"/>
<line x1="394.50" y1="39.00" x2="397.10" y2="39.00" stroke="#444" stroke-width="0.8"/>
<line x1="536.60" y1="39.00" x2="539.20" y2="39.00" stroke="#444" stroke-width="0.8"/>
<line x1="394.50" y1="68.20" x2="397.10" y2="68.20" stroke="#444" stroke-width="0.8"/>
<line x1="536.60" y1="68.20" x2="539.20" y2="68.20" stroke="#444" stroke-width="0.8"/>
<line x1="394.50" y1="97.40" x2="397.10" y2="97.40" stroke="#444" stroke-width="0.8"/>
<line x1="536.60" y1="97.40" x2="539.20" y2="97.40" stroke="#444" stroke-width="0.8"/>
<line x1="394.50" y1="24.40" x2="396.10" y2="24.40" stroke="#444" stroke-width="0.8"/>
<line x1="537.60" y1="24.40" x2="539.20" y2="24.40" stroke="#444" stroke-width="0.8"/>
<line x1="394.50" y1="53.60" x2="396.10" y2="53.60" stroke="#444" stroke-width="0.8"/>
<line x1="537.60" y1="53.60" x2="539.20" y2="53.60" stroke="#444" stroke-width="0.8"/>
<line x1="394.50" y1="82.80" x2="396.10" y2="82.80" stroke="#444" stroke-width="0.8"/>
<line x1="537.60" y1="82.80" x2="539.20" y2="82.80" stroke="#444" stroke-width="0.8"/>
<line x1="394.50" y1="112.00" x2="396.10" y2="112.00" stroke="#444" stroke-width="0.8"/>
<line x1="537.60" y1="112.00" x2="539.20" y2="112.00" stroke="#444" stroke-width="0.8"/>
<line x1="400.60" y1="121.00" x2="400.60" y2="118.40" stroke="#444" stroke-width="0.8"/>
<line x1="400.60" y1="4.20" x2="400.60" y2="6.80" stroke="#444" stroke-width="0.8"/>
<line x1="413.90" y1="121.00" x2="413.90" y2="119.40" stroke="#444" stroke-width="0.8"/>
<line x1="413.90" y1="4.20" x2="413.90" y2="5.80" stroke="#444" stroke-width="0.8"/>
<line x1="427.20" y1="121.00" x2="427.20" y2="118.40" stroke="#444" stroke-width="0.8"/>
<line x1="427.20" y1="4.20" x2="427.20" y2="6.80" stroke="#444" stroke-width="0.8"/>
<line x1="440.50" y1="121.00" x2="440.50" y2="119.40" stroke="#444" stroke-width="0.8"/>
<line x1="440.50" y1="4.20" x2="440.50" y2="5.80" stroke="#444" stroke-width="0.8"/>
<line x1="453.80" y1="121.00" x2="453.80" y2="118.40" stroke="#444" stroke-width="0.8"/>
<line x1="453.80" y1="4.20" x2="453.80" y2="6.80" stroke="#444" stroke-width="0.8"/>
<line x1="467.10" y1="121.00" x2="467.10" y2="119.40" stroke="#444" stroke-width="0.8"/>
<line x1="467.10" y1="4.20" x2="467.10" y2="5.80" stroke="#444" stroke-width="0.8"/>
<line x1="480.40" y1="121.00" x2="480.40" y2="118.40" stroke="#444" stroke-width="0.8"/>
<line x1="480.40" y1="4.20" x2="480.40" y2="6.80" stroke="#444" stroke-width="0.8"/>
<line x1="493.70" y1="121.00" x2="493.70" y2="119.40" stroke="#444" stroke-width="0.8"/>
<line x1="493.70" y1="4.20" x2="493.70" y2="5.80" stroke="#444" stroke-width="0.8"/>
<line x1="507.00" y1="121.00" x2="507.00" y2="118.40" stroke="#444" stroke-width="0.8"/>
<line x1="507.00" y1="4.20" x2="507.00" y2="6.80" stroke="#444" stroke-width="0.8"/>
<line x1="520.30" y1="121.00" x2="520.30" y2="119.40" stroke="#444" stroke-width="0.8"/>
<line x1="520.30" y1="4.20" x2="520.30" y2="5.80" stroke="#444" stroke-width="0.8"/>
<line x1="533.60" y1="121.00" x2="533.60" y2="118.40" stroke="#444" stroke-width="0.8"/>
<line x1="533.60" y1="4.20" x2="533.60" y2="6.80" stroke="#444" stroke-width="0.8"/>
<text x="391.60" y="12.20" font-size="7.7" text-anchor="end" style="font-family:'Liberation Serif',serif;font-weight:bold" fill="#000" textLength="17.4" lengthAdjust="spacingAndGlyphs">27.0n</text>
<text x="391.60" y="41.40" font-size="7.7" text-anchor="end" style="font-family:'Liberation Serif',serif;font-weight:bold" fill="#000" textLength="17.4" lengthAdjust="spacingAndGlyphs">26.5n</text>
<text x="391.60" y="70.60" font-size="7.7" text-anchor="end" style="font-family:'Liberation Serif',serif;font-weight:bold" fill="#000" textLength="17.4" lengthAdjust="spacingAndGlyphs">26.0n</text>
<text x="391.60" y="99.80" font-size="7.7" text-anchor="end" style="font-family:'Liberation Serif',serif;font-weight:bold" fill="#000" textLength="17.4" lengthAdjust="spacingAndGlyphs">25.5n</text>
<text x="400.80" y="129.60" font-size="7.6" text-anchor="middle" style="font-family:'Liberation Serif',serif;font-weight:bold" fill="#000" textLength="9.8" lengthAdjust="spacingAndGlyphs">0.0</text>
<text x="427.40" y="129.60" font-size="7.6" text-anchor="middle" style="font-family:'Liberation Serif',serif;font-weight:bold" fill="#000" textLength="9.8" lengthAdjust="spacingAndGlyphs">0.2</text>
<text x="454.00" y="129.60" font-size="7.6" text-anchor="middle" style="font-family:'Liberation Serif',serif;font-weight:bold" fill="#000" textLength="9.8" lengthAdjust="spacingAndGlyphs">0.4</text>
<text x="480.60" y="129.60" font-size="7.6" text-anchor="middle" style="font-family:'Liberation Serif',serif;font-weight:bold" fill="#000" textLength="9.8" lengthAdjust="spacingAndGlyphs">0.6</text>
<text x="507.20" y="129.60" font-size="7.6" text-anchor="middle" style="font-family:'Liberation Serif',serif;font-weight:bold" fill="#000" textLength="9.8" lengthAdjust="spacingAndGlyphs">0.8</text>
<text x="533.80" y="129.60" font-size="7.6" text-anchor="middle" style="font-family:'Liberation Serif',serif;font-weight:bold" fill="#000" textLength="9.8" lengthAdjust="spacingAndGlyphs">1.0</text>
<text x="467.30" y="141.80" font-size="9.8" text-anchor="middle" style="font-family:'Liberation Serif',serif;font-weight:bold" fill="#000" textLength="71.2" lengthAdjust="spacingAndGlyphs">Normalized (0-1)</text>
<text x="370.20" y="62.55" font-size="9.8" text-anchor="middle" style="font-family:'Liberation Serif',serif;font-weight:bold" fill="#000" transform="rotate(-90 370.20 62.55)" textLength="70.5" lengthAdjust="spacingAndGlyphs">Conductance (S)</text>
<text x="351.70" y="12.40" font-size="11.2" text-anchor="start" style="font-family:'Liberation Serif',serif;font-weight:bold" fill="#000" textLength="9.8" lengthAdjust="spacingAndGlyphs">b)</text>
<circle cx="488.6" cy="49.5" r="1.5" fill="#3a78c0" stroke="#1f3f66" stroke-width="0.5"/>
<circle cx="488.6" cy="59.5" r="1.5" fill="#ff2020" stroke="#c00" stroke-width="0.5"/>
<line x1="478.60" y1="69.50" x2="498.10" y2="69.50" stroke="#555" stroke-width="1.6"/>
<text x="500.00" y="52.00" font-size="8" text-anchor="start" style="font-family:'Liberation Serif',serif;font-weight:bold" fill="#000" textLength="32.6" lengthAdjust="spacingAndGlyphs">ave_LTD</text>
<text x="500.00" y="62.20" font-size="8" text-anchor="start" style="font-family:'Liberation Serif',serif;font-weight:bold" fill="#000" textLength="32.0" lengthAdjust="spacingAndGlyphs">ave_LTP</text>
<text x="502.40" y="72.20" font-size="8" text-anchor="start" style="font-family:'Liberation Serif',serif;font-weight:bold" fill="#000" textLength="35.0" lengthAdjust="spacingAndGlyphs">Fitted line</text>
<line x1="118.50" y1="165.30" x2="118.50" y2="287.10" stroke="#efefef" stroke-width="0.6"/>
<line x1="185.00" y1="165.30" x2="185.00" y2="287.10" stroke="#efefef" stroke-width="0.6"/>
<line x1="52.00" y1="197.70" x2="211.70" y2="197.70" stroke="#9fc3e8" stroke-width="1.9"/>
<line x1="52.00" y1="199.50" x2="211.70" y2="199.50" stroke="#ff4040" stroke-width="1.3"/>
<line x1="52.00" y1="282.30" x2="211.70" y2="282.30" stroke="#b05080" stroke-width="1.2"/>
<defs><radialGradient id="gb" cx="0.4" cy="0.35" r="0.7"><stop offset="0" stop-color="#bcd4f0"/><stop offset="0.45" stop-color="#3c6fb4"/><stop offset="1" stop-color="#1e3f78"/></radialGradient><radialGradient id="gr" cx="0.4" cy="0.35" r="0.7"><stop offset="0" stop-color="#ffd0d0"/><stop offset="0.45" stop-color="#f02020"/><stop offset="1" stop-color="#c00010"/></radialGradient></defs>
<circle cx="58.65" cy="196.60" r="2.0" fill="url(#gb)"/>
<circle cx="58.65" cy="199.20" r="2.0" fill="url(#gr)"/>
<circle cx="58.65" cy="284.70" r="2.0" fill="url(#gb)"/>
<circle cx="58.65" cy="282.30" r="2.0" fill="url(#gr)"/>
<circle cx="65.30" cy="196.60" r="2.0" fill="url(#gb)"/>
<circle cx="65.30" cy="199.50" r="2.0" fill="url(#gr)"/>
<circle cx="65.30" cy="283.50" r="2.0" fill="url(#gb)"/>
<circle cx="65.30" cy="283.50" r="2.0" fill="url(#gr)"/>
<circle cx="71.95" cy="199.00" r="2.0" fill="url(#gb)"/>
<circle cx="71.95" cy="199.50" r="2.0" fill="url(#gr)"/>
<circle cx="71.95" cy="282.00" r="2.0" fill="url(#gb)"/>
<circle cx="71.95" cy="282.00" r="2.0" fill="url(#gr)"/>
<circle cx="78.60" cy="196.50" r="2.0" fill="url(#gb)"/>
<circle cx="78.60" cy="200.90" r="2.0" fill="url(#gr)"/>
<circle cx="78.60" cy="281.20" r="2.0" fill="url(#gb)"/>
<circle cx="78.60" cy="284.20" r="2.0" fill="url(#gr)"/>
<circle cx="85.25" cy="194.50" r="2.0" fill="url(#gb)"/>
<circle cx="85.25" cy="199.80" r="2.0" fill="url(#gr)"/>
<circle cx="85.25" cy="283.00" r="2.0" fill="url(#gb)"/>
<circle cx="85.25" cy="283.80" r="2.0" fill="url(#gr)"/>
<circle cx="91.90" cy="198.30" r="2.0" fill="url(#gb)"/>
<circle cx="91.90" cy="200.20" r="2.0" fill="url(#gr)"/>
<circle cx="91.90" cy="284.00" r="2.0" fill="url(#gb)"/>
<circle cx="91.90" cy="284.70" r="2.0" fill="url(#gr)"/>
<circle cx="98.55" cy="198.50" r="2.0" fill="url(#gb)"/>
<circle cx="98.55" cy="200.70" r="2.0" fill="url(#gr)"/>
<circle cx="98.55" cy="280.70" r="2.0" fill="url(#gb)"/>
<circle cx="98.55" cy="282.00" r="2.0" fill="url(#gr)"/>
<circle cx="105.20" cy="196.70" r="2.0" fill="url(#gb)"/>
<circle cx="105.20" cy="199.30" r="2.0" fill="url(#gr)"/>
<circle cx="105.20" cy="283.80" r="2.0" fill="url(#gb)"/>
<circle cx="105.20" cy="281.80" r="2.0" fill="url(#gr)"/>
<circle cx="111.85" cy="196.90" r="2.0" fill="url(#gb)"/>
<circle cx="111.85" cy="199.30" r="2.0" fill="url(#gr)"/>
<circle cx="111.85" cy="283.30" r="2.0" fill="url(#gb)"/>
<circle cx="111.85" cy="282.30" r="2.0" fill="url(#gr)"/>
<circle cx="118.50" cy="197.60" r="2.0" fill="url(#gb)"/>
<circle cx="118.50" cy="200.00" r="2.0" fill="url(#gr)"/>
<circle cx="118.50" cy="281.80" r="2.0" fill="url(#gb)"/>
<circle cx="118.50" cy="281.80" r="2.0" fill="url(#gr)"/>
<circle cx="125.15" cy="196.70" r="2.0" fill="url(#gb)"/>
<circle cx="125.15" cy="200.60" r="2.0" fill="url(#gr)"/>
<circle cx="125.15" cy="284.20" r="2.0" fill="url(#gb)"/>
<circle cx="125.15" cy="281.80" r="2.0" fill="url(#gr)"/>
<circle cx="131.80" cy="198.90" r="2.0" fill="url(#gb)"/>
<circle cx="131.80" cy="200.20" r="2.0" fill="url(#gr)"/>
<circle cx="131.80" cy="282.90" r="2.0" fill="url(#gb)"/>
<circle cx="131.80" cy="282.90" r="2.0" fill="url(#gr)"/>
<circle cx="138.45" cy="199.00" r="2.0" fill="url(#gb)"/>
<circle cx="138.45" cy="199.30" r="2.0" fill="url(#gr)"/>
<circle cx="138.45" cy="284.00" r="2.0" fill="url(#gb)"/>
<circle cx="138.45" cy="281.80" r="2.0" fill="url(#gr)"/>
<circle cx="145.10" cy="197.40" r="2.0" fill="url(#gb)"/>
<circle cx="145.10" cy="200.00" r="2.0" fill="url(#gr)"/>
<circle cx="145.10" cy="283.10" r="2.0" fill="url(#gb)"/>
<circle cx="145.10" cy="279.60" r="2.0" fill="url(#gr)"/>
<circle cx="151.75" cy="196.70" r="2.0" fill="url(#gb)"/>
<circle cx="151.75" cy="199.80" r="2.0" fill="url(#gr)"/>
<circle cx="151.75" cy="279.60" r="2.0" fill="url(#gb)"/>
<circle cx="151.75" cy="280.50" r="2.0" fill="url(#gr)"/>
<circle cx="158.40" cy="198.90" r="2.0" fill="url(#gb)"/>
<circle cx="158.40" cy="201.50" r="2.0" fill="url(#gr)"/>
<circle cx="158.40" cy="284.00" r="2.0" fill="url(#gb)"/>
<circle cx="158.40" cy="283.10" r="2.0" fill="url(#gr)"/>
<circle cx="165.05" cy="199.00" r="2.0" fill="url(#gb)"/>
<circle cx="165.05" cy="199.50" r="2.0" fill="url(#gr)"/>
<circle cx="165.05" cy="284.00" r="2.0" fill="url(#gb)"/>
<circle cx="165.05" cy="282.70" r="2.0" fill="url(#gr)"/>
<circle cx="171.70" cy="198.00" r="2.0" fill="url(#gb)"/>
<circle cx="171.70" cy="201.20" r="2.0" fill="url(#gr)"/>
<circle cx="171.70" cy="282.20" r="2.0" fill="url(#gb)"/>
<circle cx="171.70" cy="280.00" r="2.0" fill="url(#gr)"/>
<circle cx="178.35" cy="195.40" r="2.0" fill="url(#gb)"/>
<circle cx="178.35" cy="198.40" r="2.0" fill="url(#gr)"/>
<circle cx="178.35" cy="281.20" r="2.0" fill="url(#gb)"/>
<circle cx="178.35" cy="282.80" r="2.0" fill="url(#gr)"/>
<circle cx="185.00" cy="195.60" r="2.0" fill="url(#gb)"/>
<circle cx="185.00" cy="200.00" r="2.0" fill="url(#gr)"/>
<circle cx="185.00" cy="283.20" r="2.0" fill="url(#gb)"/>
<circle cx="185.00" cy="283.20" r="2.0" fill="url(#gr)"/>
<circle cx="191.65" cy="197.00" r="2.0" fill="url(#gb)"/>
<circle cx="191.65" cy="200.40" r="2.0" fill="url(#gr)"/>
<circle cx="191.65" cy="283.60" r="2.0" fill="url(#gb)"/>
<circle cx="191.65" cy="280.00" r="2.0" fill="url(#gr)"/>
<circle cx="198.30" cy="196.60" r="2.0" fill="url(#gb)"/>
<circle cx="198.30" cy="199.20" r="2.0" fill="url(#gr)"/>
<circle cx="198.30" cy="281.20" r="2.0" fill="url(#gb)"/>
<circle cx="198.30" cy="282.80" r="2.0" fill="url(#gr)"/>
<circle cx="204.95" cy="195.80" r="2.0" fill="url(#gb)"/>
<circle cx="204.95" cy="198.80" r="2.0" fill="url(#gr)"/>
<circle cx="204.95" cy="281.60" r="2.0" fill="url(#gb)"/>
<circle cx="204.95" cy="283.20" r="2.0" fill="url(#gr)"/>
<rect x="52.00" y="165.30" width="159.70" height="121.80" fill="none" stroke="#555" stroke-width="1.2"/>
<line x1="52.00" y1="226.60" x2="211.70" y2="226.60" stroke="#000" stroke-width="1.5"/>
<line x1="52.00" y1="165.30" x2="54.40" y2="165.30" stroke="#444" stroke-width="0.8"/>
<line x1="209.30" y1="165.30" x2="211.70" y2="165.30" stroke="#444" stroke-width="0.8"/>
<line x1="52.00" y1="177.60" x2="54.40" y2="177.60" stroke="#444" stroke-width="0.8"/>
<line x1="209.30" y1="177.60" x2="211.70" y2="177.60" stroke="#444" stroke-width="0.8"/>
<line x1="52.00" y1="189.90" x2="54.40" y2="189.90" stroke="#444" stroke-width="0.8"/>
<line x1="209.30" y1="189.90" x2="211.70" y2="189.90" stroke="#444" stroke-width="0.8"/>
<line x1="52.00" y1="202.20" x2="54.40" y2="202.20" stroke="#444" stroke-width="0.8"/>
<line x1="209.30" y1="202.20" x2="211.70" y2="202.20" stroke="#444" stroke-width="0.8"/>
<line x1="52.00" y1="214.50" x2="54.40" y2="214.50" stroke="#444" stroke-width="0.8"/>
<line x1="209.30" y1="214.50" x2="211.70" y2="214.50" stroke="#444" stroke-width="0.8"/>
<line x1="52.00" y1="171.45" x2="53.40" y2="171.45" stroke="#444" stroke-width="0.8"/>
<line x1="210.30" y1="171.45" x2="211.70" y2="171.45" stroke="#444" stroke-width="0.8"/>
<line x1="52.00" y1="183.75" x2="53.40" y2="183.75" stroke="#444" stroke-width="0.8"/>
<line x1="210.30" y1="183.75" x2="211.70" y2="183.75" stroke="#444" stroke-width="0.8"/>
<line x1="52.00" y1="196.05" x2="53.40" y2="196.05" stroke="#444" stroke-width="0.8"/>
<line x1="210.30" y1="196.05" x2="211.70" y2="196.05" stroke="#444" stroke-width="0.8"/>
<line x1="52.00" y1="208.35" x2="53.40" y2="208.35" stroke="#444" stroke-width="0.8"/>
<line x1="210.30" y1="208.35" x2="211.70" y2="208.35" stroke="#444" stroke-width="0.8"/>
<line x1="52.00" y1="220.65" x2="53.40" y2="220.65" stroke="#444" stroke-width="0.8"/>
<line x1="210.30" y1="220.65" x2="211.70" y2="220.65" stroke="#444" stroke-width="0.8"/>
<line x1="52.00" y1="238.50" x2="54.40" y2="238.50" stroke="#444" stroke-width="0.8"/>
<line x1="209.30" y1="238.50" x2="211.70" y2="238.50" stroke="#444" stroke-width="0.8"/>
<line x1="52.00" y1="250.60" x2="54.40" y2="250.60" stroke="#444" stroke-width="0.8"/>
<line x1="209.30" y1="250.60" x2="211.70" y2="250.60" stroke="#444" stroke-width="0.8"/>
<line x1="52.00" y1="262.70" x2="54.40" y2="262.70" stroke="#444" stroke-width="0.8"/>
<line x1="209.30" y1="262.70" x2="211.70" y2="262.70" stroke="#444" stroke-width="0.8"/>
<line x1="52.00" y1="274.80" x2="54.40" y2="274.80" stroke="#444" stroke-width="0.8"/>
<line x1="209.30" y1="274.80" x2="211.70" y2="274.80" stroke="#444" stroke-width="0.8"/>
<line x1="52.00" y1="232.45" x2="53.40" y2="232.45" stroke="#444" stroke-width="0.8"/>
<line x1="210.30" y1="232.45" x2="211.70" y2="232.45" stroke="#444" stroke-width="0.8"/>
<line x1="52.00" y1="244.55" x2="53.40" y2="244.55" stroke="#444" stroke-width="0.8"/>
<line x1="210.30" y1="244.55" x2="211.70" y2="244.55" stroke="#444" stroke-width="0.8"/>
<line x1="52.00" y1="256.65" x2="53.40" y2="256.65" stroke="#444" stroke-width="0.8"/>
<line x1="210.30" y1="256.65" x2="211.70" y2="256.65" stroke="#444" stroke-width="0.8"/>
<line x1="52.00" y1="268.75" x2="53.40" y2="268.75" stroke="#444" stroke-width="0.8"/>
<line x1="210.30" y1="268.75" x2="211.70" y2="268.75" stroke="#444" stroke-width="0.8"/>
<line x1="52.00" y1="280.85" x2="53.40" y2="280.85" stroke="#444" stroke-width="0.8"/>
<line x1="210.30" y1="280.85" x2="211.70" y2="280.85" stroke="#444" stroke-width="0.8"/>
<line x1="52.00" y1="287.10" x2="52.00" y2="284.70" stroke="#444" stroke-width="0.8"/>
<line x1="52.00" y1="165.30" x2="52.00" y2="167.70" stroke="#444" stroke-width="0.8"/>
<line x1="52.00" y1="226.60" x2="52.00" y2="224.20" stroke="#444" stroke-width="0.8"/>
<line x1="52.00" y1="226.60" x2="52.00" y2="229.00" stroke="#444" stroke-width="0.8"/>
<line x1="85.25" y1="287.10" x2="85.25" y2="284.70" stroke="#444" stroke-width="0.8"/>
<line x1="85.25" y1="165.30" x2="85.25" y2="167.70" stroke="#444" stroke-width="0.8"/>
<line x1="85.25" y1="226.60" x2="85.25" y2="224.20" stroke="#444" stroke-width="0.8"/>
<line x1="85.25" y1="226.60" x2="85.25" y2="229.00" stroke="#444" stroke-width="0.8"/>
<line x1="118.50" y1="287.10" x2="118.50" y2="284.70" stroke="#444" stroke-width="0.8"/>
<line x1="118.50" y1="165.30" x2="118.50" y2="167.70" stroke="#444" stroke-width="0.8"/>
<line x1="118.50" y1="226.60" x2="118.50" y2="224.20" stroke="#444" stroke-width="0.8"/>
<line x1="118.50" y1="226.60" x2="118.50" y2="229.00" stroke="#444" stroke-width="0.8"/>
<line x1="151.75" y1="287.10" x2="151.75" y2="284.70" stroke="#444" stroke-width="0.8"/>
<line x1="151.75" y1="165.30" x2="151.75" y2="167.70" stroke="#444" stroke-width="0.8"/>
<line x1="151.75" y1="226.60" x2="151.75" y2="224.20" stroke="#444" stroke-width="0.8"/>
<line x1="151.75" y1="226.60" x2="151.75" y2="229.00" stroke="#444" stroke-width="0.8"/>
<line x1="185.00" y1="287.10" x2="185.00" y2="284.70" stroke="#444" stroke-width="0.8"/>
<line x1="185.00" y1="165.30" x2="185.00" y2="167.70" stroke="#444" stroke-width="0.8"/>
<line x1="185.00" y1="226.60" x2="185.00" y2="224.20" stroke="#444" stroke-width="0.8"/>
<line x1="185.00" y1="226.60" x2="185.00" y2="229.00" stroke="#444" stroke-width="0.8"/>
<line x1="68.62" y1="287.10" x2="68.62" y2="285.70" stroke="#444" stroke-width="0.8"/>
<line x1="68.62" y1="165.30" x2="68.62" y2="166.70" stroke="#444" stroke-width="0.8"/>
<line x1="68.62" y1="226.60" x2="68.62" y2="225.20" stroke="#444" stroke-width="0.8"/>
<line x1="68.62" y1="226.60" x2="68.62" y2="228.00" stroke="#444" stroke-width="0.8"/>
<line x1="101.88" y1="287.10" x2="101.88" y2="285.70" stroke="#444" stroke-width="0.8"/>
<line x1="101.88" y1="165.30" x2="101.88" y2="166.70" stroke="#444" stroke-width="0.8"/>
<line x1="101.88" y1="226.60" x2="101.88" y2="225.20" stroke="#444" stroke-width="0.8"/>
<line x1="101.88" y1="226.60" x2="101.88" y2="228.00" stroke="#444" stroke-width="0.8"/>
<line x1="135.12" y1="287.10" x2="135.12" y2="285.70" stroke="#444" stroke-width="0.8"/>
<line x1="135.12" y1="165.30" x2="135.12" y2="166.70" stroke="#444" stroke-width="0.8"/>
<line x1="135.12" y1="226.60" x2="135.12" y2="225.20" stroke="#444" stroke-width="0.8"/>
<line x1="135.12" y1="226.60" x2="135.12" y2="228.00" stroke="#444" stroke-width="0.8"/>
<line x1="168.38" y1="287.10" x2="168.38" y2="285.70" stroke="#444" stroke-width="0.8"/>
<line x1="168.38" y1="165.30" x2="168.38" y2="166.70" stroke="#444" stroke-width="0.8"/>
<line x1="168.38" y1="226.60" x2="168.38" y2="225.20" stroke="#444" stroke-width="0.8"/>
<line x1="168.38" y1="226.60" x2="168.38" y2="228.00" stroke="#444" stroke-width="0.8"/>
<line x1="201.62" y1="287.10" x2="201.62" y2="285.70" stroke="#444" stroke-width="0.8"/>
<line x1="201.62" y1="165.30" x2="201.62" y2="166.70" stroke="#444" stroke-width="0.8"/>
<line x1="201.62" y1="226.60" x2="201.62" y2="225.20" stroke="#444" stroke-width="0.8"/>
<line x1="201.62" y1="226.60" x2="201.62" y2="228.00" stroke="#444" stroke-width="0.8"/>
<text x="48.60" y="167.60" font-size="7.2" text-anchor="end" style="font-family:'Liberation Serif',serif;font-weight:bold" fill="#000" textLength="8.6" lengthAdjust="spacingAndGlyphs">1.0</text>
<text x="48.60" y="179.90" font-size="7.2" text-anchor="end" style="font-family:'Liberation Serif',serif;font-weight:bold" fill="#000" textLength="8.6" lengthAdjust="spacingAndGlyphs">0.8</text>
<text x="48.60" y="192.20" font-size="7.2" text-anchor="end" style="font-family:'Liberation Serif',serif;font-weight:bold" fill="#000" textLength="8.6" lengthAdjust="spacingAndGlyphs">0.6</text>
<text x="48.60" y="204.50" font-size="7.2" text-anchor="end" style="font-family:'Liberation Serif',serif;font-weight:bold" fill="#000" textLength="8.6" lengthAdjust="spacingAndGlyphs">0.4</text>
<text x="48.60" y="216.80" font-size="7.2" text-anchor="end" style="font-family:'Liberation Serif',serif;font-weight:bold" fill="#000" textLength="8.6" lengthAdjust="spacingAndGlyphs">0.2</text>
<text x="49.40" y="241.20" font-size="7.0" text-anchor="end" style="font-family:'Liberation Serif',serif;font-weight:bold" fill="#000">8</text>
<text x="49.40" y="253.30" font-size="7.0" text-anchor="end" style="font-family:'Liberation Serif',serif;font-weight:bold" fill="#000">6</text>
<text x="49.40" y="265.40" font-size="7.0" text-anchor="end" style="font-family:'Liberation Serif',serif;font-weight:bold" fill="#000">4</text>
<text x="49.40" y="277.50" font-size="7.0" text-anchor="end" style="font-family:'Liberation Serif',serif;font-weight:bold" fill="#000">2</text>
<text x="49.40" y="289.60" font-size="7.0" text-anchor="end" style="font-family:'Liberation Serif',serif;font-weight:bold" fill="#000">0</text>
<text x="52.10" y="295.60" font-size="7.4" text-anchor="middle" style="font-family:'Liberation Serif',serif;font-weight:bold" fill="#000">0</text>
<text x="85.35" y="295.60" font-size="7.4" text-anchor="middle" style="font-family:'Liberation Serif',serif;font-weight:bold" fill="#000">5</text>
<text x="118.60" y="295.60" font-size="7.4" text-anchor="middle" style="font-family:'Liberation Serif',serif;font-weight:bold" fill="#000">10</text>
<text x="151.85" y="295.60" font-size="7.4" text-anchor="middle" style="font-family:'Liberation Serif',serif;font-weight:bold" fill="#000">15</text>
<text x="185.10" y="295.60" font-size="7.4" text-anchor="middle" style="font-family:'Liberation Serif',serif;font-weight:bold" fill="#000">20</text>
<text x="132.35" y="307.00" font-size="8.85" text-anchor="middle" style="font-family:'Liberation Serif',serif;font-weight:bold" fill="#000" textLength="106.7" lengthAdjust="spacingAndGlyphs">Number of measurement (#)</text>
<text x="35.20" y="195.85" font-size="8.8" text-anchor="middle" style="font-family:'Liberation Serif',serif;font-weight:bold" fill="#000" transform="rotate(-90 35.20 195.85)" textLength="51.9" lengthAdjust="spacingAndGlyphs">Symmetry (α)</text>
<text x="35.40" y="256.50" font-size="8.7" text-anchor="middle" style="font-family:'Liberation Serif',serif;font-weight:bold" fill="#000" transform="rotate(-90 35.40 256.50)" textLength="57.4" lengthAdjust="spacingAndGlyphs">nonlinearity (ν)</text>
<text x="6.40" y="164.70" font-size="11.5" text-anchor="start" style="font-family:'Liberation Serif',serif;font-weight:bold" fill="#000">c</text>
<text x="11.90" y="164.70" font-size="11.5" text-anchor="start" style="font-family:'Liberation Serif',serif;font-weight:bold" fill="#000">)</text>
<circle cx="180.0" cy="173.1" r="2.0" fill="url(#gb)"/>
<circle cx="180.0" cy="183.1" r="2.0" fill="url(#gr)"/>
<text x="191.80" y="175.80" font-size="7.9" text-anchor="start" style="font-family:'Liberation Serif',serif;font-weight:bold" fill="#000" textLength="16.4" lengthAdjust="spacingAndGlyphs">LTD</text>
<text x="191.80" y="185.60" font-size="7.9" text-anchor="start" style="font-family:'Liberation Serif',serif;font-weight:bold" fill="#000" textLength="15.2" lengthAdjust="spacingAndGlyphs">LTP</text>
<defs><clipPath id="hc1"><rect x="254.0" y="167.3" width="106.30" height="111.10"/></clipPath><filter id="hf1" x="-5%" y="-5%" width="110%" height="110%"><feGaussianBlur stdDeviation="0.45"/></filter></defs>
<g clip-path="url(#hc1)"><g filter="url(#hf1)">
<rect x="251.0" y="164.3" width="112.30" height="117.10" fill="#313695"/>
<polygon points="251.00,281.4 251.00,213.10 252.40,213.10 253.81,213.10 255.21,213.13 256.62,213.17 258.02,213.20 259.42,213.24 260.83,213.27 262.23,213.31 263.63,213.34 265.04,213.38 266.44,213.41 267.85,213.45 269.25,213.48 270.65,213.53 272.06,213.60 273.46,213.66 274.86,213.73 276.27,213.79 277.67,213.86 279.07,213.92 280.48,213.99 281.88,214.05 283.29,214.12 284.69,214.19 286.09,214.28 287.50,214.38 288.90,214.49 290.31,214.59 291.71,214.69 293.11,214.79 294.52,214.90 295.92,215.00 297.32,215.10 298.73,215.21 300.13,215.31 301.54,215.40 302.94,215.50 304.34,215.59 305.75,215.68 307.15,215.78 308.55,215.87 309.96,215.96 311.36,216.06 312.76,216.15 314.17,216.24 315.57,216.33 316.98,216.42 318.38,216.50 319.78,216.59 321.19,216.67 322.59,216.76 324.00,216.84 325.40,216.92 326.80,217.01 328.21,217.09 329.61,217.18 331.01,217.27 332.42,217.38 333.82,217.48 335.23,217.58 336.63,217.69 338.03,217.79 339.44,217.89 340.84,217.99 342.24,218.10 343.65,218.20 345.05,218.30 346.46,218.33 347.86,218.36 349.26,218.38 350.67,218.41 352.07,218.44 353.47,218.47 354.88,218.49 356.28,218.52 357.69,218.55 359.09,218.58 360.49,218.60 361.90,218.60 363.30,218.60 363.30,281.4" fill="#4575b4"/>
<polygon points="251.00,281.4 251.00,214.10 252.40,214.10 253.81,214.10 255.21,214.13 256.62,214.17 258.02,214.20 259.42,214.24 260.83,214.27 262.23,214.31 263.63,214.34 265.04,214.38 266.44,214.41 267.85,214.45 269.25,214.48 270.65,214.53 272.06,214.60 273.46,214.66 274.86,214.73 276.27,214.79 277.67,214.86 279.07,214.92 280.48,214.99 281.88,215.05 283.29,215.12 284.69,215.19 286.09,215.28 287.50,215.38 288.90,215.49 290.31,215.59 291.71,215.69 293.11,215.79 294.52,215.90 295.92,216.00 297.32,216.10 298.73,216.21 300.13,216.31 301.54,216.40 302.94,216.50 304.34,216.59 305.75,216.68 307.15,216.78 308.55,216.87 309.96,216.96 311.36,217.06 312.76,217.15 314.17,217.24 315.57,217.33 316.98,217.42 318.38,217.50 319.78,217.59 321.19,217.67 322.59,217.76 324.00,217.84 325.40,217.92 326.80,218.01 328.21,218.09 329.61,218.18 331.01,218.27 332.42,218.38 333.82,218.48 335.23,218.58 336.63,218.69 338.03,218.79 339.44,218.89 340.84,218.99 342.24,219.10 343.65,219.20 345.05,219.30 346.46,219.33 347.86,219.36 349.26,219.38 350.67,219.41 352.07,219.44 353.47,219.47 354.88,219.49 356.28,219.52 357.69,219.55 359.09,219.58 360.49,219.60 361.90,219.60 363.30,219.60 363.30,281.4" fill="#74add1"/>
<polygon points="251.00,281.4 251.00,214.80 252.40,214.80 253.81,214.80 255.21,214.83 256.62,214.87 258.02,214.90 259.42,214.94 260.83,214.97 262.23,215.01 263.63,215.04 265.04,215.08 266.44,215.11 267.85,215.15 269.25,215.18 270.65,215.23 272.06,215.30 273.46,215.36 274.86,215.43 276.27,215.49 277.67,215.56 279.07,215.62 280.48,215.69 281.88,215.75 283.29,215.82 284.69,215.89 286.09,215.98 287.50,216.08 288.90,216.19 290.31,216.29 291.71,216.39 293.11,216.49 294.52,216.60 295.92,216.70 297.32,216.80 298.73,216.91 300.13,217.01 301.54,217.10 302.94,217.20 304.34,217.29 305.75,217.38 307.15,217.48 308.55,217.57 309.96,217.66 311.36,217.76 312.76,217.85 314.17,217.94 315.57,218.03 316.98,218.12 318.38,218.20 319.78,218.29 321.19,218.37 322.59,218.46 324.00,218.54 325.40,218.62 326.80,218.71 328.21,218.79 329.61,218.88 331.01,218.97 332.42,219.08 333.82,219.18 335.23,219.28 336.63,219.39 338.03,219.49 339.44,219.59 340.84,219.69 342.24,219.80 343.65,219.90 345.05,220.00 346.46,220.03 347.86,220.06 349.26,220.08 350.67,220.11 352.07,220.14 353.47,220.17 354.88,220.19 356.28,220.22 357.69,220.25 359.09,220.28 360.49,220.30 361.90,220.30 363.30,220.30 363.30,281.4" fill="#abd9e9"/>
<polygon points="251.00,281.4 251.00,215.40 252.40,215.40 253.81,215.40 255.21,215.43 256.62,215.47 258.02,215.50 259.42,215.54 260.83,215.57 262.23,215.61 263.63,215.64 265.04,215.68 266.44,215.71 267.85,215.75 269.25,215.78 270.65,215.83 272.06,215.90 273.46,215.96 274.86,216.03 276.27,216.09 277.67,216.16 279.07,216.22 280.48,216.29 281.88,216.35 283.29,216.42 284.69,216.49 286.09,216.58 287.50,216.68 288.90,216.79 290.31,216.89 291.71,216.99 293.11,217.09 294.52,217.20 295.92,217.30 297.32,217.40 298.73,217.51 300.13,217.61 301.54,217.70 302.94,217.80 304.34,217.89 305.75,217.98 307.15,218.08 308.55,218.17 309.96,218.26 311.36,218.36 312.76,218.45 314.17,218.54 315.57,218.63 316.98,218.72 318.38,218.80 319.78,218.89 321.19,218.97 322.59,219.06 324.00,219.14 325.40,219.22 326.80,219.31 328.21,219.39 329.61,219.48 331.01,219.57 332.42,219.68 333.82,219.78 335.23,219.88 336.63,219.99 338.03,220.09 339.44,220.19 340.84,220.29 342.24,220.40 343.65,220.50 345.05,220.60 346.46,220.63 347.86,220.66 349.26,220.68 350.67,220.71 352.07,220.74 353.47,220.77 354.88,220.79 356.28,220.82 357.69,220.85 359.09,220.88 360.49,220.90 361.90,220.90 363.30,220.90 363.30,281.4" fill="#e0f3f8"/>
<polygon points="251.00,281.4 251.00,215.95 252.40,215.95 253.81,215.95 255.21,215.98 256.62,216.02 258.02,216.05 259.42,216.09 260.83,216.12 262.23,216.16 263.63,216.19 265.04,216.23 266.44,216.26 267.85,216.30 269.25,216.33 270.65,216.38 272.06,216.45 273.46,216.51 274.86,216.58 276.27,216.64 277.67,216.71 279.07,216.77 280.48,216.84 281.88,216.90 283.29,216.97 284.69,217.04 286.09,217.13 287.50,217.23 288.90,217.34 290.31,217.44 291.71,217.54 293.11,217.64 294.52,217.75 295.92,217.85 297.32,217.95 298.73,218.06 300.13,218.16 301.54,218.25 302.94,218.35 304.34,218.44 305.75,218.53 307.15,218.63 308.55,218.72 309.96,218.81 311.36,218.91 312.76,219.00 314.17,219.09 315.57,219.18 316.98,219.27 318.38,219.35 319.78,219.44 321.19,219.52 322.59,219.61 324.00,219.69 325.40,219.77 326.80,219.86 328.21,219.94 329.61,220.03 331.01,220.12 332.42,220.23 333.82,220.33 335.23,220.43 336.63,220.54 338.03,220.64 339.44,220.74 340.84,220.84 342.24,220.95 343.65,221.05 345.05,221.15 346.46,221.18 347.86,221.21 349.26,221.23 350.67,221.26 352.07,221.29 353.47,221.32 354.88,221.34 356.28,221.37 357.69,221.40 359.09,221.43 360.49,221.45 361.90,221.45 363.30,221.45 363.30,281.4" fill="#ffffbf"/>
<polygon points="251.00,281.4 251.00,216.70 252.40,216.70 253.81,216.70 255.21,216.73 256.62,216.77 258.02,216.80 259.42,216.84 260.83,216.87 262.23,216.91 263.63,216.94 265.04,216.98 266.44,217.01 267.85,217.05 269.25,217.08 270.65,217.13 272.06,217.20 273.46,217.26 274.86,217.33 276.27,217.39 277.67,217.46 279.07,217.52 280.48,217.59 281.88,217.65 283.29,217.72 284.69,217.79 286.09,217.88 287.50,217.98 288.90,218.09 290.31,218.19 291.71,218.29 293.11,218.39 294.52,218.50 295.92,218.60 297.32,218.70 298.73,218.81 300.13,218.91 301.54,219.00 302.94,219.10 304.34,219.19 305.75,219.28 307.15,219.38 308.55,219.47 309.96,219.56 311.36,219.66 312.76,219.75 314.17,219.84 315.57,219.93 316.98,220.02 318.38,220.10 319.78,220.19 321.19,220.27 322.59,220.36 324.00,220.44 325.40,220.52 326.80,220.61 328.21,220.69 329.61,220.78 331.01,220.87 332.42,220.98 333.82,221.08 335.23,221.18 336.63,221.29 338.03,221.39 339.44,221.49 340.84,221.59 342.24,221.70 343.65,221.80 345.05,221.90 346.46,221.93 347.86,221.96 349.26,221.98 350.67,222.01 352.07,222.04 353.47,222.07 354.88,222.09 356.28,222.12 357.69,222.15 359.09,222.18 360.49,222.20 361.90,222.20 363.30,222.20 363.30,281.4" fill="#fee090"/>
<polygon points="251.00,281.4 251.00,217.15 252.40,217.15 253.81,217.15 255.21,217.18 256.62,217.22 258.02,217.25 259.42,217.29 260.83,217.32 262.23,217.36 263.63,217.39 265.04,217.43 266.44,217.46 267.85,217.50 269.25,217.53 270.65,217.58 272.06,217.65 273.46,217.71 274.86,217.78 276.27,217.84 277.67,217.91 279.07,217.97 280.48,218.04 281.88,218.10 283.29,218.17 284.69,218.24 286.09,218.33 287.50,218.43 288.90,218.54 290.31,218.64 291.71,218.74 293.11,218.84 294.52,218.95 295.92,219.05 297.32,219.15 298.73,219.26 300.13,219.36 301.54,219.45 302.94,219.55 304.34,219.64 305.75,219.73 307.15,219.83 308.55,219.92 309.96,220.01 311.36,220.11 312.76,220.20 314.17,220.29 315.57,220.38 316.98,220.47 318.38,220.55 319.78,220.64 321.19,220.72 322.59,220.81 324.00,220.89 325.40,220.97 326.80,221.06 328.21,221.14 329.61,221.23 331.01,221.32 332.42,221.43 333.82,221.53 335.23,221.63 336.63,221.74 338.03,221.84 339.44,221.94 340.84,222.04 342.24,222.15 343.65,222.25 345.05,222.35 346.46,222.38 347.86,222.41 349.26,222.43 350.67,222.46 352.07,222.49 353.47,222.52 354.88,222.54 356.28,222.57 357.69,222.60 359.09,222.63 360.49,222.65 361.90,222.65 363.30,222.65 363.30,281.4" fill="#fdae61"/>
<polygon points="251.00,281.4 251.00,217.60 252.40,217.60 253.81,217.60 255.21,217.63 256.62,217.67 258.02,217.70 259.42,217.74 260.83,217.77 262.23,217.81 263.63,217.84 265.04,217.88 266.44,217.91 267.85,217.95 269.25,217.98 270.65,218.03 272.06,218.10 273.46,218.16 274.86,218.23 276.27,218.29 277.67,218.36 279.07,218.42 280.48,218.49 281.88,218.55 283.29,218.62 284.69,218.69 286.09,218.78 287.50,218.88 288.90,218.99 290.31,219.09 291.71,219.19 293.11,219.29 294.52,219.40 295.92,219.50 297.32,219.60 298.73,219.71 300.13,219.81 301.54,219.90 302.94,220.00 304.34,220.09 305.75,220.18 307.15,220.28 308.55,220.37 309.96,220.46 311.36,220.56 312.76,220.65 314.17,220.74 315.57,220.83 316.98,220.92 318.38,221.00 319.78,221.09 321.19,221.17 322.59,221.26 324.00,221.34 325.40,221.42 326.80,221.51 328.21,221.59 329.61,221.68 331.01,221.77 332.42,221.88 333.82,221.98 335.23,222.08 336.63,222.19 338.03,222.29 339.44,222.39 340.84,222.49 342.24,222.60 343.65,222.70 345.05,222.80 346.46,222.83 347.86,222.86 349.26,222.88 350.67,222.91 352.07,222.94 353.47,222.97 354.88,222.99 356.28,223.02 357.69,223.05 359.09,223.08 360.49,223.10 361.90,223.10 363.30,223.10 363.30,281.4" fill="#f46d43"/>
<polygon points="251.00,281.4 251.00,218.05 252.40,218.05 253.81,218.05 255.21,218.08 256.62,218.12 258.02,218.15 259.42,218.19 260.83,218.22 262.23,218.26 263.63,218.29 265.04,218.33 266.44,218.36 267.85,218.40 269.25,218.43 270.65,218.48 272.06,218.55 273.46,218.61 274.86,218.68 276.27,218.74 277.67,218.81 279.07,218.87 280.48,218.94 281.88,219.00 283.29,219.07 284.69,219.14 286.09,219.23 287.50,219.33 288.90,219.44 290.31,219.54 291.71,219.64 293.11,219.74 294.52,219.85 295.92,219.95 297.32,220.05 298.73,220.16 300.13,220.26 301.54,220.35 302.94,220.45 304.34,220.54 305.75,220.63 307.15,220.73 308.55,220.82 309.96,220.91 311.36,221.01 312.76,221.10 314.17,221.19 315.57,221.28 316.98,221.37 318.38,221.45 319.78,221.54 321.19,221.62 322.59,221.71 324.00,221.79 325.40,221.87 326.80,221.96 328.21,222.04 329.61,222.13 331.01,222.22 332.42,222.33 333.82,222.43 335.23,222.53 336.63,222.64 338.03,222.74 339.44,222.84 340.84,222.94 342.24,223.05 343.65,223.15 345.05,223.25 346.46,223.28 347.86,223.31 349.26,223.33 350.67,223.36 352.07,223.39 353.47,223.42 354.88,223.44 356.28,223.47 357.69,223.50 359.09,223.53 360.49,223.55 361.90,223.55 363.30,223.55 363.30,281.4" fill="#d73027"/>
<polygon points="251.00,281.4 251.00,218.50 252.40,218.50 253.81,218.50 255.21,218.53 256.62,218.57 258.02,218.60 259.42,218.64 260.83,218.67 262.23,218.71 263.63,218.74 265.04,218.78 266.44,218.81 267.85,218.85 269.25,218.88 270.65,218.93 272.06,219.00 273.46,219.06 274.86,219.13 276.27,219.19 277.67,219.26 279.07,219.32 280.48,219.39 281.88,219.45 283.29,219.52 284.69,219.59 286.09,219.68 287.50,219.78 288.90,219.89 290.31,219.99 291.71,220.09 293.11,220.19 294.52,220.30 295.92,220.40 297.32,220.50 298.73,220.61 300.13,220.71 301.54,220.80 302.94,220.90 304.34,220.99 305.75,221.08 307.15,221.18 308.55,221.27 309.96,221.36 311.36,221.46 312.76,221.55 314.17,221.64 315.57,221.73 316.98,221.82 318.38,221.90 319.78,221.99 321.19,222.07 322.59,222.16 324.00,222.24 325.40,222.32 326.80,222.41 328.21,222.49 329.61,222.58 331.01,222.67 332.42,222.78 333.82,222.88 335.23,222.98 336.63,223.09 338.03,223.19 339.44,223.29 340.84,223.39 342.24,223.50 343.65,223.60 345.05,223.70 346.46,223.73 347.86,223.76 349.26,223.78 350.67,223.81 352.07,223.84 353.47,223.87 354.88,223.89 356.28,223.92 357.69,223.95 359.09,223.98 360.49,224.00 361.90,224.00 363.30,224.00 363.30,281.4" fill="#a50026"/>
</g></g>
<rect x="254.00" y="167.30" width="106.30" height="111.10" fill="none" stroke="#222" stroke-width="0.7"/>
<line x1="251.60" y1="178.50" x2="254.00" y2="178.50" stroke="#444" stroke-width="0.7"/>
<text x="248.00" y="180.90" font-size="6.4" text-anchor="end" style="font-family:'Liberation Sans',sans-serif" fill="#222" textLength="14.1" lengthAdjust="spacingAndGlyphs" stroke="#222" stroke-width="0.16">0.15</text>
<line x1="251.60" y1="195.20" x2="254.00" y2="195.20" stroke="#444" stroke-width="0.7"/>
<text x="248.00" y="197.60" font-size="6.4" text-anchor="end" style="font-family:'Liberation Sans',sans-serif" fill="#222" textLength="14.1" lengthAdjust="spacingAndGlyphs" stroke="#222" stroke-width="0.16">0.10</text>
<line x1="251.60" y1="211.90" x2="254.00" y2="211.90" stroke="#444" stroke-width="0.7"/>
<text x="248.00" y="214.30" font-size="6.4" text-anchor="end" style="font-family:'Liberation Sans',sans-serif" fill="#222" textLength="14.1" lengthAdjust="spacingAndGlyphs" stroke="#222" stroke-width="0.16">0.05</text>
<line x1="251.60" y1="228.60" x2="254.00" y2="228.60" stroke="#444" stroke-width="0.7"/>
<text x="248.00" y="231.00" font-size="6.4" text-anchor="end" style="font-family:'Liberation Sans',sans-serif" fill="#222" textLength="14.1" lengthAdjust="spacingAndGlyphs" stroke="#222" stroke-width="0.16">0.00</text>
<line x1="251.60" y1="245.30" x2="254.00" y2="245.30" stroke="#444" stroke-width="0.7"/>
<text x="248.00" y="247.70" font-size="6.4" text-anchor="end" style="font-family:'Liberation Sans',sans-serif" fill="#222" textLength="20.5" lengthAdjust="spacingAndGlyphs" stroke="#222" stroke-width="0.16">−0.05</text>
<line x1="251.60" y1="262.00" x2="254.00" y2="262.00" stroke="#444" stroke-width="0.7"/>
<text x="248.00" y="264.40" font-size="6.4" text-anchor="end" style="font-family:'Liberation Sans',sans-serif" fill="#222" textLength="20.5" lengthAdjust="spacingAndGlyphs" stroke="#222" stroke-width="0.16">−0.10</text>
<line x1="265.80" y1="278.40" x2="265.80" y2="280.80" stroke="#444" stroke-width="0.7"/>
<text x="265.80" y="287.70" font-size="6.6" text-anchor="middle" style="font-family:'Liberation Sans',sans-serif" fill="#222" textLength="15.0" lengthAdjust="spacingAndGlyphs" stroke="#222" stroke-width="0.16">25.5</text>
<line x1="300.70" y1="278.40" x2="300.70" y2="280.80" stroke="#444" stroke-width="0.7"/>
<text x="300.70" y="287.70" font-size="6.6" text-anchor="middle" style="font-family:'Liberation Sans',sans-serif" fill="#222" textLength="15.0" lengthAdjust="spacingAndGlyphs" stroke="#222" stroke-width="0.16">26.0</text>
<line x1="335.50" y1="278.40" x2="335.50" y2="280.80" stroke="#444" stroke-width="0.7"/>
<text x="335.50" y="287.70" font-size="6.6" text-anchor="middle" style="font-family:'Liberation Sans',sans-serif" fill="#222" textLength="15.0" lengthAdjust="spacingAndGlyphs" stroke="#222" stroke-width="0.16">26.5</text>
<text x="306.65" y="294.60" font-size="6.8" text-anchor="middle" style="font-family:'Liberation Sans',sans-serif" fill="#222" textLength="61.5" lengthAdjust="spacingAndGlyphs" stroke="#222" stroke-width="0.16">Conductance (nS)</text>
<text x="224.40" y="223.10" font-size="6.4" text-anchor="middle" style="font-family:'Liberation Sans',sans-serif" fill="#222" transform="rotate(-90 224.40 223.10)" textLength="23.2" lengthAdjust="spacingAndGlyphs" stroke="#222" stroke-width="0.16">ΔG (nS)</text>
<text x="223.60" y="165.80" font-size="11.3" text-anchor="start" style="font-family:'Liberation Serif',serif;font-weight:bold" fill="#000" textLength="9.8" lengthAdjust="spacingAndGlyphs">d)</text>
<defs><clipPath id="hc2"><rect x="406.7" y="166.9" width="105.30" height="109.60"/></clipPath><filter id="hf2" x="-5%" y="-5%" width="110%" height="110%"><feGaussianBlur stdDeviation="0.45"/></filter></defs>
<g clip-path="url(#hc2)"><g filter="url(#hf2)">
<rect x="403.7" y="163.9" width="111.30" height="115.60" fill="#313695"/>
<polygon points="403.70,279.5 403.70,217.60 405.09,217.60 406.48,217.60 407.87,217.63 409.26,217.67 410.66,217.71 412.05,217.75 413.44,217.79 414.83,217.83 416.22,217.87 417.61,217.91 419.00,217.95 420.39,217.99 421.79,218.03 423.18,218.07 424.57,218.10 425.96,218.14 427.35,218.18 428.74,218.22 430.13,218.26 431.52,218.30 432.92,218.34 434.31,218.38 435.70,218.42 437.09,218.46 438.48,218.50 439.87,218.54 441.26,218.58 442.65,218.61 444.05,218.63 445.44,218.66 446.83,218.68 448.22,218.70 449.61,218.73 451.00,218.75 452.39,218.77 453.78,218.80 455.18,218.82 456.57,218.84 457.96,218.87 459.35,218.89 460.74,218.94 462.13,219.02 463.52,219.10 464.92,219.18 466.31,219.25 467.70,219.33 469.09,219.41 470.48,219.49 471.87,219.57 473.26,219.65 474.65,219.72 476.04,219.80 477.44,219.85 478.83,219.90 480.22,219.95 481.61,220.00 483.00,220.05 484.39,220.11 485.78,220.16 487.18,220.20 488.57,220.16 489.96,220.12 491.35,220.08 492.74,220.04 494.13,220.01 495.52,219.97 496.91,219.93 498.31,219.88 499.70,219.82 501.09,219.75 502.48,219.68 503.87,219.61 505.26,219.54 506.65,219.47 508.04,219.40 509.44,219.33 510.83,219.26 512.22,219.20 513.61,219.20 515.00,219.20 515.00,279.5" fill="#4575b4"/>
<polygon points="403.70,279.5 403.70,218.60 405.09,218.60 406.48,218.60 407.87,218.63 409.26,218.67 410.66,218.71 412.05,218.75 413.44,218.79 414.83,218.83 416.22,218.87 417.61,218.91 419.00,218.95 420.39,218.99 421.79,219.03 423.18,219.07 424.57,219.10 425.96,219.14 427.35,219.18 428.74,219.22 430.13,219.26 431.52,219.30 432.92,219.34 434.31,219.38 435.70,219.42 437.09,219.46 438.48,219.50 439.87,219.54 441.26,219.58 442.65,219.61 444.05,219.63 445.44,219.66 446.83,219.68 448.22,219.70 449.61,219.73 451.00,219.75 452.39,219.77 453.78,219.80 455.18,219.82 456.57,219.84 457.96,219.87 459.35,219.89 460.74,219.94 462.13,220.02 463.52,220.10 464.92,220.18 466.31,220.25 467.70,220.33 469.09,220.41 470.48,220.49 471.87,220.57 473.26,220.65 474.65,220.72 476.04,220.80 477.44,220.85 478.83,220.90 480.22,220.95 481.61,221.00 483.00,221.05 484.39,221.11 485.78,221.16 487.18,221.20 488.57,221.16 489.96,221.12 491.35,221.08 492.74,221.04 494.13,221.01 495.52,220.97 496.91,220.93 498.31,220.88 499.70,220.82 501.09,220.75 502.48,220.68 503.87,220.61 505.26,220.54 506.65,220.47 508.04,220.40 509.44,220.33 510.83,220.26 512.22,220.20 513.61,220.20 515.00,220.20 515.00,279.5" fill="#74add1"/>
<polygon points="403.70,279.5 403.70,219.30 405.09,219.30 406.48,219.30 407.87,219.33 409.26,219.37 410.66,219.41 412.05,219.45 413.44,219.49 414.83,219.53 416.22,219.57 417.61,219.61 419.00,219.65 420.39,219.69 421.79,219.73 423.18,219.77 424.57,219.80 425.96,219.84 427.35,219.88 428.74,219.92 430.13,219.96 431.52,220.00 432.92,220.04 434.31,220.08 435.70,220.12 437.09,220.16 438.48,220.20 439.87,220.24 441.26,220.28 442.65,220.31 444.05,220.33 445.44,220.36 446.83,220.38 448.22,220.40 449.61,220.43 451.00,220.45 452.39,220.47 453.78,220.50 455.18,220.52 456.57,220.54 457.96,220.57 459.35,220.59 460.74,220.64 462.13,220.72 463.52,220.80 464.92,220.88 466.31,220.95 467.70,221.03 469.09,221.11 470.48,221.19 471.87,221.27 473.26,221.35 474.65,221.42 476.04,221.50 477.44,221.55 478.83,221.60 480.22,221.65 481.61,221.70 483.00,221.75 484.39,221.81 485.78,221.86 487.18,221.90 488.57,221.86 489.96,221.82 491.35,221.78 492.74,221.74 494.13,221.71 495.52,221.67 496.91,221.63 498.31,221.58 499.70,221.52 501.09,221.45 502.48,221.38 503.87,221.31 505.26,221.24 506.65,221.17 508.04,221.10 509.44,221.03 510.83,220.96 512.22,220.90 513.61,220.90 515.00,220.90 515.00,279.5" fill="#abd9e9"/>
<polygon points="403.70,279.5 403.70,219.90 405.09,219.90 406.48,219.90 407.87,219.93 409.26,219.97 410.66,220.01 412.05,220.05 413.44,220.09 414.83,220.13 416.22,220.17 417.61,220.21 419.00,220.25 420.39,220.29 421.79,220.33 423.18,220.37 424.57,220.40 425.96,220.44 427.35,220.48 428.74,220.52 430.13,220.56 431.52,220.60 432.92,220.64 434.31,220.68 435.70,220.72 437.09,220.76 438.48,220.80 439.87,220.84 441.26,220.88 442.65,220.91 444.05,220.93 445.44,220.96 446.83,220.98 448.22,221.00 449.61,221.03 451.00,221.05 452.39,221.07 453.78,221.10 455.18,221.12 456.57,221.14 457.96,221.17 459.35,221.19 460.74,221.24 462.13,221.32 463.52,221.40 464.92,221.48 466.31,221.55 467.70,221.63 469.09,221.71 470.48,221.79 471.87,221.87 473.26,221.95 474.65,222.02 476.04,222.10 477.44,222.15 478.83,222.20 480.22,222.25 481.61,222.30 483.00,222.35 484.39,222.41 485.78,222.46 487.18,222.50 488.57,222.46 489.96,222.42 491.35,222.38 492.74,222.34 494.13,222.31 495.52,222.27 496.91,222.23 498.31,222.18 499.70,222.12 501.09,222.05 502.48,221.98 503.87,221.91 505.26,221.84 506.65,221.77 508.04,221.70 509.44,221.63 510.83,221.56 512.22,221.50 513.61,221.50 515.00,221.50 515.00,279.5" fill="#e0f3f8"/>
<polygon points="403.70,279.5 403.70,220.45 405.09,220.45 406.48,220.45 407.87,220.48 409.26,220.52 410.66,220.56 412.05,220.60 413.44,220.64 414.83,220.68 416.22,220.72 417.61,220.76 419.00,220.80 420.39,220.84 421.79,220.88 423.18,220.92 424.57,220.95 425.96,220.99 427.35,221.03 428.74,221.07 430.13,221.11 431.52,221.15 432.92,221.19 434.31,221.23 435.70,221.27 437.09,221.31 438.48,221.35 439.87,221.39 441.26,221.43 442.65,221.46 444.05,221.48 445.44,221.51 446.83,221.53 448.22,221.55 449.61,221.58 451.00,221.60 452.39,221.62 453.78,221.65 455.18,221.67 456.57,221.69 457.96,221.72 459.35,221.74 460.74,221.79 462.13,221.87 463.52,221.95 464.92,222.03 466.31,222.10 467.70,222.18 469.09,222.26 470.48,222.34 471.87,222.42 473.26,222.50 474.65,222.57 476.04,222.65 477.44,222.70 478.83,222.75 480.22,222.80 481.61,222.85 483.00,222.90 484.39,222.96 485.78,223.01 487.18,223.05 488.57,223.01 489.96,222.97 491.35,222.93 492.74,222.89 494.13,222.86 495.52,222.82 496.91,222.78 498.31,222.73 499.70,222.67 501.09,222.60 502.48,222.53 503.87,222.46 505.26,222.39 506.65,222.32 508.04,222.25 509.44,222.18 510.83,222.11 512.22,222.05 513.61,222.05 515.00,222.05 515.00,279.5" fill="#ffffbf"/>
<polygon points="403.70,279.5 403.70,221.20 405.09,221.20 406.48,221.20 407.87,221.23 409.26,221.27 410.66,221.31 412.05,221.35 413.44,221.39 414.83,221.43 416.22,221.47 417.61,221.51 419.00,221.55 420.39,221.59 421.79,221.63 423.18,221.67 424.57,221.70 425.96,221.74 427.35,221.78 428.74,221.82 430.13,221.86 431.52,221.90 432.92,221.94 434.31,221.98 435.70,222.02 437.09,222.06 438.48,222.10 439.87,222.14 441.26,222.18 442.65,222.21 444.05,222.23 445.44,222.26 446.83,222.28 448.22,222.30 449.61,222.33 451.00,222.35 452.39,222.37 453.78,222.40 455.18,222.42 456.57,222.44 457.96,222.47 459.35,222.49 460.74,222.54 462.13,222.62 463.52,222.70 464.92,222.78 466.31,222.85 467.70,222.93 469.09,223.01 470.48,223.09 471.87,223.17 473.26,223.25 474.65,223.32 476.04,223.40 477.44,223.45 478.83,223.50 480.22,223.55 481.61,223.60 483.00,223.65 484.39,223.71 485.78,223.76 487.18,223.80 488.57,223.76 489.96,223.72 491.35,223.68 492.74,223.64 494.13,223.61 495.52,223.57 496.91,223.53 498.31,223.48 499.70,223.42 501.09,223.35 502.48,223.28 503.87,223.21 505.26,223.14 506.65,223.07 508.04,223.00 509.44,222.93 510.83,222.86 512.22,222.80 513.61,222.80 515.00,222.80 515.00,279.5" fill="#fee090"/>
<polygon points="403.70,279.5 403.70,221.65 405.09,221.65 406.48,221.65 407.87,221.68 409.26,221.72 410.66,221.76 412.05,221.80 413.44,221.84 414.83,221.88 416.22,221.92 417.61,221.96 419.00,222.00 420.39,222.04 421.79,222.08 423.18,222.12 424.57,222.15 425.96,222.19 427.35,222.23 428.74,222.27 430.13,222.31 431.52,222.35 432.92,222.39 434.31,222.43 435.70,222.47 437.09,222.51 438.48,222.55 439.87,222.59 441.26,222.63 442.65,222.66 444.05,222.68 445.44,222.71 446.83,222.73 448.22,222.75 449.61,222.78 451.00,222.80 452.39,222.82 453.78,222.85 455.18,222.87 456.57,222.89 457.96,222.92 459.35,222.94 460.74,222.99 462.13,223.07 463.52,223.15 464.92,223.23 466.31,223.30 467.70,223.38 469.09,223.46 470.48,223.54 471.87,223.62 473.26,223.70 474.65,223.77 476.04,223.85 477.44,223.90 478.83,223.95 480.22,224.00 481.61,224.05 483.00,224.10 484.39,224.16 485.78,224.21 487.18,224.25 488.57,224.21 489.96,224.17 491.35,224.13 492.74,224.09 494.13,224.06 495.52,224.02 496.91,223.98 498.31,223.93 499.70,223.87 501.09,223.80 502.48,223.73 503.87,223.66 505.26,223.59 506.65,223.52 508.04,223.45 509.44,223.38 510.83,223.31 512.22,223.25 513.61,223.25 515.00,223.25 515.00,279.5" fill="#fdae61"/>
<polygon points="403.70,279.5 403.70,222.10 405.09,222.10 406.48,222.10 407.87,222.13 409.26,222.17 410.66,222.21 412.05,222.25 413.44,222.29 414.83,222.33 416.22,222.37 417.61,222.41 419.00,222.45 420.39,222.49 421.79,222.53 423.18,222.57 424.57,222.60 425.96,222.64 427.35,222.68 428.74,222.72 430.13,222.76 431.52,222.80 432.92,222.84 434.31,222.88 435.70,222.92 437.09,222.96 438.48,223.00 439.87,223.04 441.26,223.08 442.65,223.11 444.05,223.13 445.44,223.16 446.83,223.18 448.22,223.20 449.61,223.23 451.00,223.25 452.39,223.27 453.78,223.30 455.18,223.32 456.57,223.34 457.96,223.37 459.35,223.39 460.74,223.44 462.13,223.52 463.52,223.60 464.92,223.68 466.31,223.75 467.70,223.83 469.09,223.91 470.48,223.99 471.87,224.07 473.26,224.15 474.65,224.22 476.04,224.30 477.44,224.35 478.83,224.40 480.22,224.45 481.61,224.50 483.00,224.55 484.39,224.61 485.78,224.66 487.18,224.70 488.57,224.66 489.96,224.62 491.35,224.58 492.74,224.54 494.13,224.51 495.52,224.47 496.91,224.43 498.31,224.38 499.70,224.32 501.09,224.25 502.48,224.18 503.87,224.11 505.26,224.04 506.65,223.97 508.04,223.90 509.44,223.83 510.83,223.76 512.22,223.70 513.61,223.70 515.00,223.70 515.00,279.5" fill="#f46d43"/>
<polygon points="403.70,279.5 403.70,222.55 405.09,222.55 406.48,222.55 407.87,222.58 409.26,222.62 410.66,222.66 412.05,222.70 413.44,222.74 414.83,222.78 416.22,222.82 417.61,222.86 419.00,222.90 420.39,222.94 421.79,222.98 423.18,223.02 424.57,223.05 425.96,223.09 427.35,223.13 428.74,223.17 430.13,223.21 431.52,223.25 432.92,223.29 434.31,223.33 435.70,223.37 437.09,223.41 438.48,223.45 439.87,223.49 441.26,223.53 442.65,223.56 444.05,223.58 445.44,223.61 446.83,223.63 448.22,223.65 449.61,223.68 451.00,223.70 452.39,223.72 453.78,223.75 455.18,223.77 456.57,223.79 457.96,223.82 459.35,223.84 460.74,223.89 462.13,223.97 463.52,224.05 464.92,224.13 466.31,224.20 467.70,224.28 469.09,224.36 470.48,224.44 471.87,224.52 473.26,224.60 474.65,224.67 476.04,224.75 477.44,224.80 478.83,224.85 480.22,224.90 481.61,224.95 483.00,225.00 484.39,225.06 485.78,225.11 487.18,225.15 488.57,225.11 489.96,225.07 491.35,225.03 492.74,224.99 494.13,224.96 495.52,224.92 496.91,224.88 498.31,224.83 499.70,224.77 501.09,224.70 502.48,224.63 503.87,224.56 505.26,224.49 506.65,224.42 508.04,224.35 509.44,224.28 510.83,224.21 512.22,224.15 513.61,224.15 515.00,224.15 515.00,279.5" fill="#d73027"/>
<polygon points="403.70,279.5 403.70,223.00 405.09,223.00 406.48,223.00 407.87,223.03 409.26,223.07 410.66,223.11 412.05,223.15 413.44,223.19 414.83,223.23 416.22,223.27 417.61,223.31 419.00,223.35 420.39,223.39 421.79,223.43 423.18,223.47 424.57,223.50 425.96,223.54 427.35,223.58 428.74,223.62 430.13,223.66 431.52,223.70 432.92,223.74 434.31,223.78 435.70,223.82 437.09,223.86 438.48,223.90 439.87,223.94 441.26,223.98 442.65,224.01 444.05,224.03 445.44,224.06 446.83,224.08 448.22,224.10 449.61,224.13 451.00,224.15 452.39,224.17 453.78,224.20 455.18,224.22 456.57,224.24 457.96,224.27 459.35,224.29 460.74,224.34 462.13,224.42 463.52,224.50 464.92,224.58 466.31,224.65 467.70,224.73 469.09,224.81 470.48,224.89 471.87,224.97 473.26,225.05 474.65,225.12 476.04,225.20 477.44,225.25 478.83,225.30 480.22,225.35 481.61,225.40 483.00,225.45 484.39,225.51 485.78,225.56 487.18,225.60 488.57,225.56 489.96,225.52 491.35,225.48 492.74,225.44 494.13,225.41 495.52,225.37 496.91,225.33 498.31,225.28 499.70,225.22 501.09,225.15 502.48,225.08 503.87,225.01 505.26,224.94 506.65,224.87 508.04,224.80 509.44,224.73 510.83,224.66 512.22,224.60 513.61,224.60 515.00,224.60 515.00,279.5" fill="#a50026"/>
</g></g>
<rect x="406.70" y="166.90" width="105.30" height="109.60" fill="none" stroke="#222" stroke-width="0.7"/>
<line x1="404.30" y1="181.92" x2="406.70" y2="181.92" stroke="#444" stroke-width="0.7"/>
<text x="401.90" y="184.12" font-size="6.1" text-anchor="end" style="font-family:'Liberation Sans',sans-serif" fill="#222" textLength="12.8" lengthAdjust="spacingAndGlyphs" stroke="#222" stroke-width="0.16">0.10</text>
<line x1="404.30" y1="198.06" x2="406.70" y2="198.06" stroke="#444" stroke-width="0.7"/>
<text x="401.90" y="200.26" font-size="6.1" text-anchor="end" style="font-family:'Liberation Sans',sans-serif" fill="#222" textLength="12.8" lengthAdjust="spacingAndGlyphs" stroke="#222" stroke-width="0.16">0.05</text>
<line x1="404.30" y1="214.20" x2="406.70" y2="214.20" stroke="#444" stroke-width="0.7"/>
<text x="401.90" y="216.40" font-size="6.1" text-anchor="end" style="font-family:'Liberation Sans',sans-serif" fill="#222" textLength="12.8" lengthAdjust="spacingAndGlyphs" stroke="#222" stroke-width="0.16">0.00</text>
<line x1="404.30" y1="230.34" x2="406.70" y2="230.34" stroke="#444" stroke-width="0.7"/>
<text x="401.90" y="232.54" font-size="6.1" text-anchor="end" style="font-family:'Liberation Sans',sans-serif" fill="#222" textLength="18.7" lengthAdjust="spacingAndGlyphs" stroke="#222" stroke-width="0.16">−0.05</text>
<line x1="404.30" y1="246.48" x2="406.70" y2="246.48" stroke="#444" stroke-width="0.7"/>
<text x="401.90" y="248.68" font-size="6.1" text-anchor="end" style="font-family:'Liberation Sans',sans-serif" fill="#222" textLength="18.7" lengthAdjust="spacingAndGlyphs" stroke="#222" stroke-width="0.16">−0.10</text>
<line x1="404.30" y1="262.62" x2="406.70" y2="262.62" stroke="#444" stroke-width="0.7"/>
<text x="401.90" y="264.82" font-size="6.1" text-anchor="end" style="font-family:'Liberation Sans',sans-serif" fill="#222" textLength="18.7" lengthAdjust="spacingAndGlyphs" stroke="#222" stroke-width="0.16">−0.15</text>
<line x1="418.10" y1="276.50" x2="418.10" y2="278.80" stroke="#444" stroke-width="0.7"/>
<text x="418.10" y="285.90" font-size="6.2" text-anchor="middle" style="font-family:'Liberation Sans',sans-serif" fill="#222" textLength="13.5" lengthAdjust="spacingAndGlyphs" stroke="#222" stroke-width="0.16">25.5</text>
<line x1="452.70" y1="276.50" x2="452.70" y2="278.80" stroke="#444" stroke-width="0.7"/>
<text x="452.70" y="285.90" font-size="6.2" text-anchor="middle" style="font-family:'Liberation Sans',sans-serif" fill="#222" textLength="13.5" lengthAdjust="spacingAndGlyphs" stroke="#222" stroke-width="0.16">26.0</text>
<line x1="487.50" y1="276.50" x2="487.50" y2="278.80" stroke="#444" stroke-width="0.7"/>
<text x="487.50" y="285.90" font-size="6.2" text-anchor="middle" style="font-family:'Liberation Sans',sans-serif" fill="#222" textLength="13.5" lengthAdjust="spacingAndGlyphs" stroke="#222" stroke-width="0.16">26.5</text>
<text x="459.25" y="292.80" font-size="6.4" text-anchor="middle" style="font-family:'Liberation Sans',sans-serif" fill="#222" textLength="56.3" lengthAdjust="spacingAndGlyphs" stroke="#222" stroke-width="0.16">Conductance (nS)</text>
<text x="380.00" y="222.00" font-size="6.4" text-anchor="middle" style="font-family:'Liberation Sans',sans-serif" fill="#222" transform="rotate(-90 380.00 222.00)" textLength="23.2" lengthAdjust="spacingAndGlyphs" stroke="#222" stroke-width="0.16">ΔG (nS)</text>
<text x="376.00" y="164.80" font-size="11.3" text-anchor="start" style="font-family:'Liberation Serif',serif;font-weight:bold" fill="#000" textLength="9.4" lengthAdjust="spacingAndGlyphs">e)</text>
<defs><linearGradient id="cb" x1="0" y1="1" x2="0" y2="0"><stop offset="0.0" stop-color="#a50026"/><stop offset="0.1" stop-color="#d73027"/><stop offset="0.2" stop-color="#f46d43"/><stop offset="0.3" stop-color="#fdae61"/><stop offset="0.4" stop-color="#fee090"/><stop offset="0.5" stop-color="#ffffbf"/><stop offset="0.6" stop-color="#e0f3f8"/><stop offset="0.7" stop-color="#abd9e9"/><stop offset="0.8" stop-color="#74add1"/><stop offset="0.9" stop-color="#4575b4"/><stop offset="1.0" stop-color="#313695"/></linearGradient></defs>
<rect x="518.90" y="167.10" width="5.70" height="109.30" fill="url(#cb)" stroke="#555" stroke-width="0.6"/>
<line x1="524.60" y1="276.40" x2="526.80" y2="276.40" stroke="#444" stroke-width="0.7"/>
<text x="529.20" y="279.50" font-size="6.4" text-anchor="start" style="font-family:'Liberation Sans',sans-serif" fill="#222" textLength="9.0" lengthAdjust="spacingAndGlyphs" stroke="#222" stroke-width="0.16">0.0</text>
<line x1="524.60" y1="254.54" x2="526.80" y2="254.54" stroke="#444" stroke-width="0.7"/>
<text x="529.20" y="257.64" font-size="6.4" text-anchor="start" style="font-family:'Liberation Sans',sans-serif" fill="#222" textLength="9.0" lengthAdjust="spacingAndGlyphs" stroke="#222" stroke-width="0.16">0.2</text>
<line x1="524.60" y1="232.68" x2="526.80" y2="232.68" stroke="#444" stroke-width="0.7"/>
<text x="529.20" y="235.78" font-size="6.4" text-anchor="start" style="font-family:'Liberation Sans',sans-serif" fill="#222" textLength="9.0" lengthAdjust="spacingAndGlyphs" stroke="#222" stroke-width="0.16">0.4</text>
<line x1="524.60" y1="210.82" x2="526.80" y2="210.82" stroke="#444" stroke-width="0.7"/>
<text x="529.20" y="213.92" font-size="6.4" text-anchor="start" style="font-family:'Liberation Sans',sans-serif" fill="#222" textLength="9.0" lengthAdjust="spacingAndGlyphs" stroke="#222" stroke-width="0.16">0.6</text>
<line x1="524.60" y1="188.96" x2="526.80" y2="188.96" stroke="#444" stroke-width="0.7"/>
<text x="529.20" y="192.06" font-size="6.4" text-anchor="start" style="font-family:'Liberation Sans',sans-serif" fill="#222" textLength="9.0" lengthAdjust="spacingAndGlyphs" stroke="#222" stroke-width="0.16">0.8</text>
<line x1="524.60" y1="167.10" x2="526.80" y2="167.10" stroke="#444" stroke-width="0.7"/>
<text x="529.20" y="170.20" font-size="6.4" text-anchor="start" style="font-family:'Liberation Sans',sans-serif" fill="#222" textLength="9.0" lengthAdjust="spacingAndGlyphs" stroke="#222" stroke-width="0.16">1.0</text>
<text x="546.40" y="222.00" font-size="6.4" text-anchor="middle" style="font-family:'Liberation Sans',sans-serif" fill="#222" transform="rotate(-90 546.40 222.00)" textLength="10.8" lengthAdjust="spacingAndGlyphs" stroke="#222" stroke-width="0.16">CDF</text>
</svg></body></html>
